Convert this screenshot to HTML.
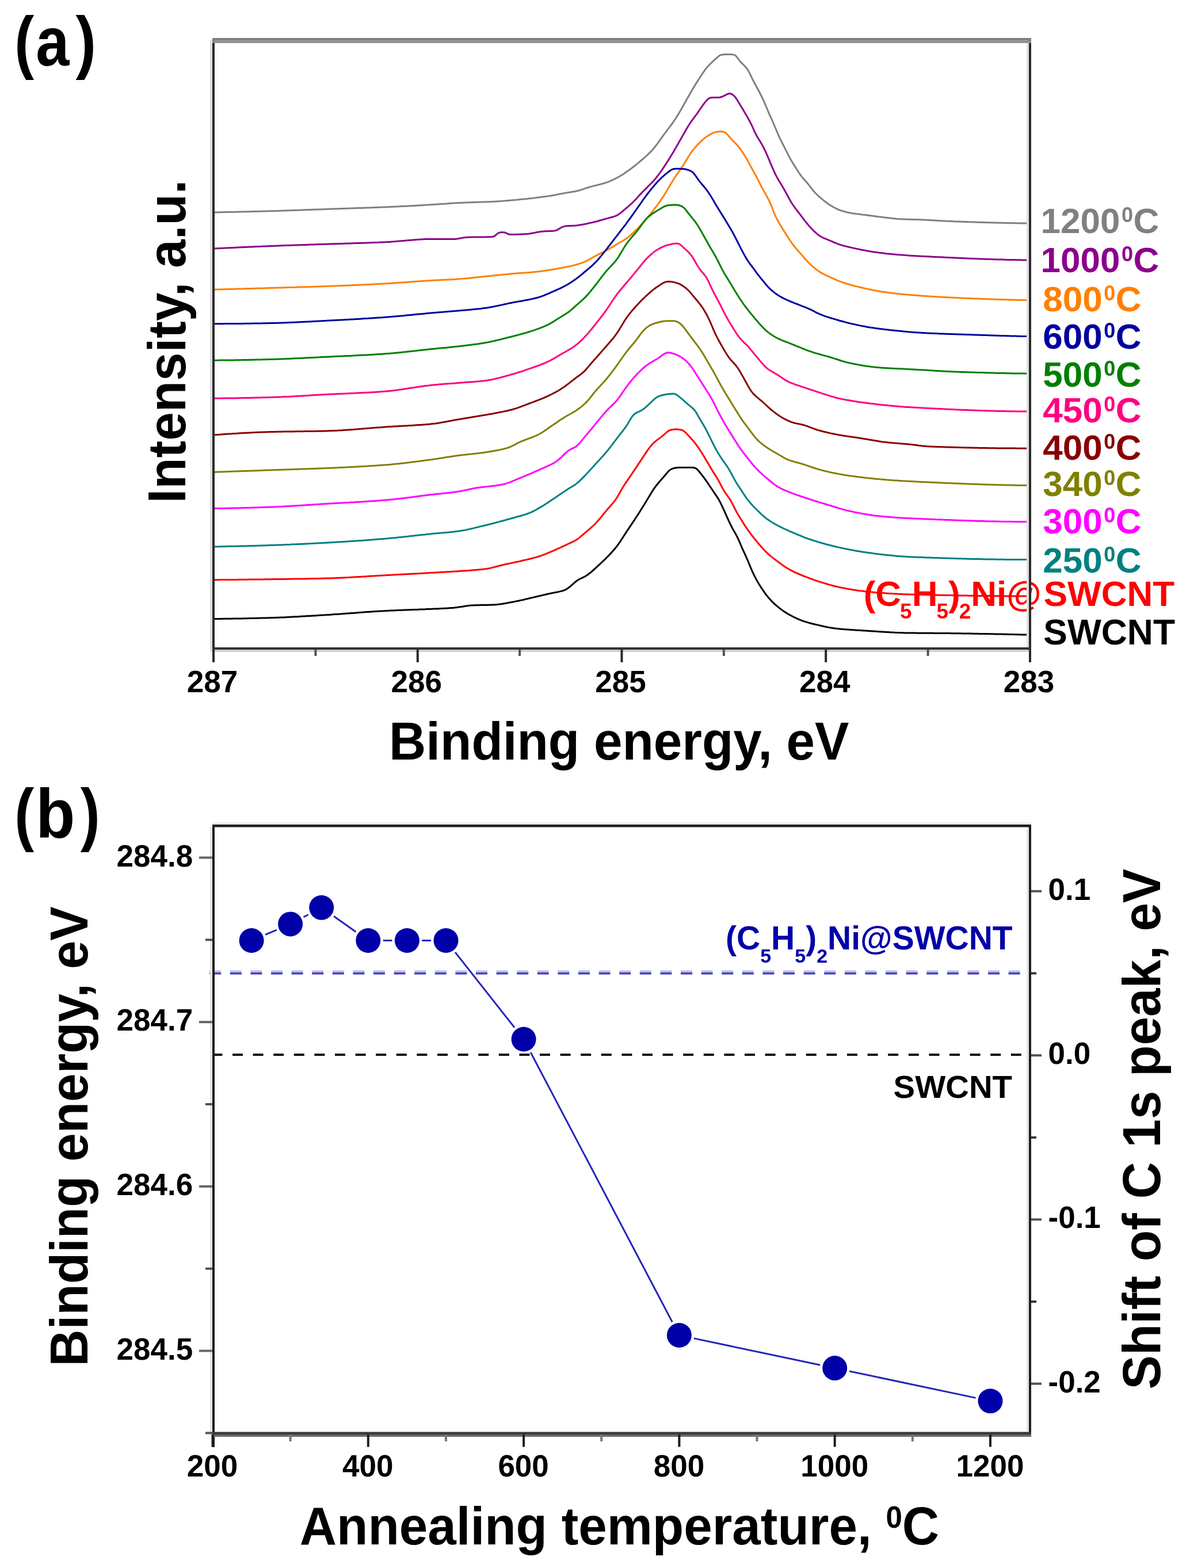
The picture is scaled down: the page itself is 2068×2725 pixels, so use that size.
<!DOCTYPE html><html><head><meta charset="utf-8"><title>C 1s XPS spectra and binding energy shift</title><style>html,body{margin:0;padding:0;background:#fff;overflow:hidden;}svg{display:block;}</style></head><body>
<svg width="2068" height="2725" viewBox="0 0 2068 2725">
<rect width="2068" height="2725" fill="#fff"/>
<g font-family='"Liberation Sans", Arial, Helvetica, sans-serif' font-weight="bold">
<text transform="translate(25.20,114.30) scale(0.85,1)" font-size="120">(</text>
<text transform="translate(62.37,114.30) scale(0.87,1)" font-size="120">a</text>
<text transform="translate(131.39,114.30) scale(0.89,1)" font-size="120">)</text>
<g fill="none" stroke-width="3" stroke-linejoin="round" stroke-linecap="round">
<path d="M373.0 369.0 L376.0 368.9 L379.0 368.9 L382.0 368.8 L385.0 368.8 L388.0 368.7 L391.0 368.7 L394.0 368.6 L397.0 368.5 L400.0 368.5 L403.0 368.4 L406.0 368.4 L409.0 368.3 L412.0 368.2 L415.0 368.2 L418.0 368.1 L421.0 368.0 L424.0 368.0 L427.0 367.9 L430.0 367.8 L433.0 367.7 L436.0 367.7 L439.0 367.6 L442.0 367.5 L445.0 367.4 L448.0 367.4 L451.0 367.3 L454.0 367.2 L457.0 367.1 L460.0 367.1 L463.0 367.0 L466.0 366.9 L469.0 366.8 L472.0 366.7 L475.0 366.7 L478.0 366.6 L481.0 366.5 L484.0 366.4 L487.0 366.3 L490.0 366.2 L493.0 366.1 L496.0 366.0 L499.0 365.9 L502.0 365.8 L505.0 365.7 L508.0 365.6 L511.0 365.5 L514.0 365.4 L517.0 365.3 L520.0 365.2 L523.0 365.1 L526.0 365.0 L529.0 364.8 L532.0 364.7 L535.0 364.6 L538.0 364.5 L541.0 364.4 L544.0 364.3 L547.0 364.2 L550.0 364.1 L553.0 364.0 L556.0 363.9 L559.0 363.8 L562.0 363.7 L565.0 363.6 L568.0 363.4 L571.0 363.3 L574.0 363.2 L577.0 363.1 L580.0 363.0 L583.0 362.9 L586.0 362.8 L589.0 362.7 L592.0 362.6 L595.0 362.5 L598.0 362.4 L601.0 362.3 L604.0 362.2 L607.0 362.1 L610.0 362.0 L613.0 361.9 L616.0 361.8 L619.0 361.7 L622.0 361.6 L625.0 361.5 L628.0 361.4 L631.0 361.3 L634.0 361.2 L637.0 361.1 L640.0 361.0 L643.0 360.9 L646.0 360.8 L649.0 360.7 L652.0 360.6 L655.0 360.5 L658.0 360.3 L661.0 360.2 L664.0 360.1 L667.0 360.0 L670.0 359.9 L673.0 359.7 L676.0 359.6 L679.0 359.5 L682.0 359.3 L685.0 359.2 L688.0 359.0 L691.0 358.9 L694.0 358.8 L697.0 358.6 L700.0 358.5 L703.0 358.3 L706.0 358.2 L709.0 358.0 L712.0 357.8 L715.0 357.7 L718.0 357.5 L721.0 357.4 L724.0 357.2 L727.0 357.0 L730.0 356.9 L733.0 356.7 L736.0 356.5 L739.0 356.3 L742.0 356.2 L745.0 356.0 L748.0 355.8 L751.0 355.6 L754.0 355.4 L757.0 355.3 L760.0 355.0 L763.0 354.8 L766.0 354.6 L769.0 354.4 L772.0 354.2 L775.0 354.0 L778.0 353.7 L781.0 353.5 L784.0 353.3 L787.0 353.1 L790.0 353.0 L793.0 352.8 L796.0 352.6 L799.0 352.5 L802.0 352.4 L805.0 352.2 L808.0 352.1 L811.0 352.0 L814.0 351.9 L817.0 351.8 L820.0 351.7 L823.0 351.6 L826.0 351.5 L829.0 351.4 L832.0 351.3 L835.0 351.2 L838.0 351.1 L841.0 351.0 L844.0 350.9 L847.0 350.8 L850.0 350.7 L853.0 350.6 L856.0 350.4 L859.0 350.3 L862.0 350.1 L865.0 349.9 L868.0 349.7 L871.0 349.5 L874.0 349.3 L877.0 349.0 L880.0 348.8 L883.0 348.5 L886.0 348.3 L889.0 348.0 L892.0 347.7 L895.0 347.4 L898.0 347.2 L901.0 346.9 L904.0 346.6 L907.0 346.3 L910.0 346.0 L913.0 345.7 L916.0 345.4 L919.0 345.0 L922.0 344.7 L925.0 344.4 L928.0 344.0 L931.0 343.7 L934.0 343.3 L937.0 342.9 L940.0 342.5 L943.0 342.1 L946.0 341.7 L949.0 341.3 L952.0 340.9 L955.0 340.4 L958.0 339.9 L961.0 339.4 L964.0 338.9 L967.0 338.3 L970.0 337.8 L973.0 337.2 L976.0 336.6 L979.0 336.1 L982.0 335.5 L985.0 335.0 L988.0 334.4 L991.0 334.0 L994.0 333.5 L997.0 333.0 L1000.0 332.5 L1003.0 331.8 L1006.0 331.0 L1009.0 330.1 L1012.0 329.2 L1015.0 328.2 L1018.0 327.2 L1021.0 326.2 L1024.0 325.3 L1027.0 324.4 L1030.0 323.6 L1033.0 322.8 L1036.0 322.1 L1039.0 321.3 L1042.0 320.6 L1045.0 319.8 L1048.0 319.0 L1051.0 318.1 L1054.0 317.1 L1057.0 316.0 L1060.0 314.8 L1063.0 313.5 L1066.0 312.1 L1069.0 310.6 L1072.0 309.1 L1075.0 307.5 L1078.0 305.8 L1081.0 303.9 L1084.0 302.0 L1087.0 299.9 L1090.0 297.8 L1093.0 295.7 L1096.0 293.5 L1099.0 291.3 L1102.0 289.0 L1105.0 286.6 L1108.0 284.2 L1111.0 281.7 L1114.0 279.1 L1117.0 276.5 L1120.0 273.9 L1123.0 271.2 L1126.0 268.4 L1129.0 265.4 L1132.0 262.4 L1135.0 259.1 L1138.0 255.6 L1141.0 251.7 L1144.0 247.7 L1147.0 243.4 L1150.0 239.1 L1153.0 234.9 L1156.0 230.8 L1159.0 226.8 L1162.0 222.9 L1165.0 219.0 L1168.0 215.0 L1171.0 210.7 L1174.0 206.2 L1177.0 201.4 L1180.0 196.4 L1183.0 191.2 L1186.0 186.1 L1189.0 180.8 L1192.0 175.5 L1195.0 170.1 L1198.0 164.7 L1201.0 159.4 L1204.0 154.3 L1207.0 149.4 L1210.0 144.6 L1213.0 139.9 L1216.0 135.3 L1219.0 130.6 L1222.0 126.0 L1225.0 121.7 L1228.0 117.8 L1231.0 114.5 L1234.0 111.4 L1237.0 108.5 L1240.0 105.7 L1243.0 102.9 L1246.0 100.1 L1249.0 97.6 L1252.0 95.8 L1255.0 95.0 L1258.0 94.7 L1261.0 94.6 L1264.0 94.5 L1267.0 94.5 L1270.0 94.6 L1273.0 94.8 L1276.0 95.4 L1279.0 97.3 L1282.0 101.0 L1285.0 105.2 L1288.0 108.7 L1291.0 111.6 L1294.0 114.5 L1297.0 117.9 L1300.0 122.3 L1303.0 127.9 L1306.0 134.1 L1309.0 140.2 L1312.0 145.8 L1315.0 151.2 L1318.0 156.8 L1321.0 162.5 L1324.0 168.5 L1327.0 175.0 L1330.0 181.9 L1333.0 189.0 L1336.0 196.1 L1339.0 202.8 L1342.0 209.5 L1345.0 216.3 L1348.0 223.5 L1351.0 230.7 L1354.0 237.5 L1357.0 243.8 L1360.0 249.7 L1363.0 255.6 L1366.0 261.7 L1369.0 267.7 L1372.0 273.4 L1375.0 278.7 L1378.0 283.7 L1381.0 288.6 L1384.0 293.3 L1387.0 298.0 L1390.0 302.5 L1393.0 306.6 L1396.0 310.3 L1399.0 313.7 L1402.0 317.0 L1405.0 320.6 L1408.0 324.4 L1411.0 328.4 L1414.0 332.2 L1417.0 335.5 L1420.0 338.5 L1423.0 341.3 L1426.0 343.9 L1429.0 346.4 L1432.0 348.9 L1435.0 351.2 L1438.0 353.5 L1441.0 355.5 L1444.0 357.4 L1447.0 359.2 L1450.0 360.8 L1453.0 362.4 L1456.0 363.8 L1459.0 365.0 L1462.0 366.1 L1465.0 367.0 L1468.0 367.8 L1471.0 368.6 L1474.0 369.3 L1477.0 369.9 L1480.0 370.4 L1483.0 370.9 L1486.0 371.3 L1489.0 371.8 L1492.0 372.1 L1495.0 372.5 L1498.0 372.9 L1501.0 373.2 L1504.0 373.6 L1507.0 374.0 L1510.0 374.4 L1513.0 374.8 L1516.0 375.2 L1519.0 375.6 L1522.0 376.0 L1525.0 376.4 L1528.0 376.8 L1531.0 377.1 L1534.0 377.5 L1537.0 377.9 L1540.0 378.2 L1543.0 378.6 L1546.0 378.9 L1549.0 379.3 L1552.0 379.6 L1555.0 379.9 L1558.0 380.2 L1561.0 380.5 L1564.0 380.7 L1567.0 380.8 L1570.0 381.0 L1573.0 381.1 L1576.0 381.2 L1579.0 381.3 L1582.0 381.3 L1585.0 381.4 L1588.0 381.5 L1591.0 381.5 L1594.0 381.6 L1597.0 381.7 L1600.0 381.8 L1603.0 381.9 L1606.0 382.1 L1609.0 382.2 L1612.0 382.4 L1615.0 382.5 L1618.0 382.7 L1621.0 382.9 L1624.0 383.1 L1627.0 383.3 L1630.0 383.5 L1633.0 383.6 L1636.0 383.8 L1639.0 384.0 L1642.0 384.1 L1645.0 384.3 L1648.0 384.4 L1651.0 384.5 L1654.0 384.6 L1657.0 384.8 L1660.0 384.9 L1663.0 385.0 L1666.0 385.1 L1669.0 385.2 L1672.0 385.3 L1675.0 385.4 L1678.0 385.5 L1681.0 385.6 L1684.0 385.7 L1687.0 385.8 L1690.0 385.9 L1693.0 386.0 L1696.0 386.1 L1699.0 386.2 L1702.0 386.3 L1705.0 386.4 L1708.0 386.5 L1711.0 386.6 L1714.0 386.7 L1717.0 386.7 L1720.0 386.8 L1723.0 386.9 L1726.0 387.0 L1729.0 387.1 L1732.0 387.1 L1735.0 387.2 L1738.0 387.3 L1741.0 387.3 L1744.0 387.4 L1747.0 387.5 L1750.0 387.5 L1753.0 387.6 L1756.0 387.6 L1759.0 387.7 L1762.0 387.7 L1765.0 387.8 L1768.0 387.8 L1771.0 387.9 L1774.0 387.9 L1777.0 387.9 L1780.0 387.9 L1783.0 388.0 L1786.0 388.0 L1789.0 388.0" stroke="#808080"/>
<path d="M373.0 431.9 L376.0 431.8 L379.0 431.7 L382.0 431.5 L385.0 431.4 L388.0 431.2 L391.0 431.1 L394.0 430.9 L397.0 430.8 L400.0 430.7 L403.0 430.5 L406.0 430.4 L409.0 430.2 L412.0 430.1 L415.0 429.9 L418.0 429.8 L421.0 429.7 L424.0 429.5 L427.0 429.4 L430.0 429.3 L433.0 429.1 L436.0 429.0 L439.0 428.9 L442.0 428.7 L445.0 428.6 L448.0 428.5 L451.0 428.4 L454.0 428.2 L457.0 428.1 L460.0 428.0 L463.0 427.9 L466.0 427.7 L469.0 427.6 L472.0 427.5 L475.0 427.4 L478.0 427.3 L481.0 427.2 L484.0 427.1 L487.0 427.0 L490.0 426.8 L493.0 426.7 L496.0 426.6 L499.0 426.5 L502.0 426.4 L505.0 426.3 L508.0 426.2 L511.0 426.1 L514.0 426.0 L517.0 425.9 L520.0 425.8 L523.0 425.7 L526.0 425.6 L529.0 425.5 L532.0 425.4 L535.0 425.3 L538.0 425.2 L541.0 425.1 L544.0 425.0 L547.0 424.9 L550.0 424.8 L553.0 424.7 L556.0 424.6 L559.0 424.5 L562.0 424.4 L565.0 424.3 L568.0 424.2 L571.0 424.1 L574.0 424.0 L577.0 423.9 L580.0 423.8 L583.0 423.8 L586.0 423.7 L589.0 423.6 L592.0 423.5 L595.0 423.4 L598.0 423.3 L601.0 423.2 L604.0 423.1 L607.0 423.0 L610.0 422.9 L613.0 422.8 L616.0 422.7 L619.0 422.6 L622.0 422.6 L625.0 422.5 L628.0 422.4 L631.0 422.3 L634.0 422.2 L637.0 422.1 L640.0 422.0 L643.0 421.8 L646.0 421.7 L649.0 421.6 L652.0 421.5 L655.0 421.4 L658.0 421.3 L661.0 421.1 L664.0 421.0 L667.0 420.9 L670.0 420.7 L673.0 420.6 L676.0 420.4 L679.0 420.2 L682.0 420.0 L685.0 419.8 L688.0 419.5 L691.0 419.3 L694.0 419.0 L697.0 418.8 L700.0 418.5 L703.0 418.2 L706.0 418.0 L709.0 417.7 L712.0 417.4 L715.0 417.2 L718.0 416.9 L721.0 416.7 L724.0 416.5 L727.0 416.3 L730.0 416.1 L733.0 415.9 L736.0 415.7 L739.0 415.6 L742.0 415.5 L745.0 415.5 L748.0 415.4 L751.0 415.4 L754.0 415.4 L757.0 415.4 L760.0 415.4 L763.0 415.4 L766.0 415.4 L769.0 415.4 L772.0 415.5 L775.0 415.5 L778.0 415.5 L781.0 415.5 L784.0 415.5 L787.0 415.5 L790.0 415.4 L793.0 415.2 L796.0 414.8 L799.0 414.2 L802.0 413.7 L805.0 413.1 L808.0 412.7 L811.0 412.4 L814.0 412.3 L817.0 412.2 L820.0 412.1 L823.0 412.1 L826.0 412.0 L829.0 412.0 L832.0 412.0 L835.0 412.0 L838.0 411.9 L841.0 411.9 L844.0 411.9 L847.0 411.8 L850.0 411.8 L853.0 411.7 L856.0 411.5 L859.0 410.5 L862.0 408.2 L865.0 405.6 L868.0 404.2 L871.0 403.7 L874.0 403.7 L877.0 404.0 L880.0 405.2 L883.0 406.8 L886.0 407.5 L889.0 407.5 L892.0 407.5 L895.0 407.4 L898.0 407.4 L901.0 407.3 L904.0 407.2 L907.0 407.0 L910.0 406.9 L913.0 406.7 L916.0 406.5 L919.0 406.2 L922.0 405.7 L925.0 405.2 L928.0 404.7 L931.0 404.1 L934.0 403.6 L937.0 403.1 L940.0 402.6 L943.0 402.3 L946.0 402.0 L949.0 401.8 L952.0 401.7 L955.0 401.6 L958.0 401.4 L961.0 401.2 L964.0 400.9 L967.0 400.2 L970.0 398.7 L973.0 396.8 L976.0 395.1 L979.0 393.9 L982.0 393.1 L985.0 392.7 L988.0 392.5 L991.0 392.4 L994.0 392.3 L997.0 392.2 L1000.0 392.0 L1003.0 391.7 L1006.0 391.3 L1009.0 390.8 L1012.0 390.3 L1015.0 389.7 L1018.0 389.1 L1021.0 388.5 L1024.0 387.8 L1027.0 387.1 L1030.0 386.5 L1033.0 385.7 L1036.0 385.0 L1039.0 384.2 L1042.0 383.3 L1045.0 382.5 L1048.0 381.6 L1051.0 380.7 L1054.0 379.9 L1057.0 379.1 L1060.0 378.3 L1063.0 377.5 L1066.0 376.7 L1069.0 375.6 L1072.0 374.3 L1075.0 372.6 L1078.0 370.4 L1081.0 368.0 L1084.0 365.4 L1087.0 362.9 L1090.0 360.4 L1093.0 357.8 L1096.0 355.1 L1099.0 352.3 L1102.0 349.3 L1105.0 346.2 L1108.0 342.9 L1111.0 339.6 L1114.0 336.4 L1117.0 333.2 L1120.0 330.2 L1123.0 327.3 L1126.0 324.3 L1129.0 321.3 L1132.0 318.3 L1135.0 315.1 L1138.0 311.7 L1141.0 308.0 L1144.0 304.2 L1147.0 300.1 L1150.0 295.8 L1153.0 291.4 L1156.0 286.9 L1159.0 282.3 L1162.0 277.6 L1165.0 272.7 L1168.0 267.8 L1171.0 262.7 L1174.0 257.6 L1177.0 252.4 L1180.0 247.1 L1183.0 241.8 L1186.0 236.5 L1189.0 231.2 L1192.0 226.0 L1195.0 220.8 L1198.0 216.0 L1201.0 211.5 L1204.0 207.4 L1207.0 203.3 L1210.0 199.3 L1213.0 195.1 L1216.0 190.7 L1219.0 186.3 L1222.0 182.0 L1225.0 178.1 L1228.0 174.5 L1231.0 171.6 L1234.0 170.0 L1237.0 169.5 L1240.0 169.5 L1243.0 169.5 L1246.0 169.5 L1249.0 169.4 L1252.0 169.0 L1255.0 168.0 L1258.0 166.7 L1261.0 165.1 L1264.0 163.5 L1267.0 162.6 L1270.0 162.8 L1273.0 164.3 L1276.0 166.8 L1279.0 170.5 L1282.0 175.2 L1285.0 180.2 L1288.0 185.2 L1291.0 190.1 L1294.0 195.2 L1297.0 200.3 L1300.0 205.5 L1303.0 211.0 L1306.0 216.9 L1309.0 223.5 L1312.0 230.1 L1315.0 236.0 L1318.0 241.0 L1321.0 245.8 L1324.0 250.9 L1327.0 256.5 L1330.0 262.7 L1333.0 269.3 L1336.0 276.4 L1339.0 283.6 L1342.0 290.7 L1345.0 297.5 L1348.0 303.9 L1351.0 309.6 L1354.0 314.7 L1357.0 319.5 L1360.0 324.5 L1363.0 329.8 L1366.0 335.2 L1369.0 340.7 L1372.0 346.2 L1375.0 351.5 L1378.0 356.2 L1381.0 360.5 L1384.0 364.4 L1387.0 368.2 L1390.0 372.1 L1393.0 376.1 L1396.0 380.1 L1399.0 384.1 L1402.0 387.8 L1405.0 391.4 L1408.0 394.9 L1411.0 398.0 L1414.0 401.1 L1417.0 403.9 L1420.0 406.6 L1423.0 408.9 L1426.0 410.8 L1429.0 412.5 L1432.0 413.9 L1435.0 415.2 L1438.0 416.4 L1441.0 417.6 L1444.0 418.9 L1447.0 420.2 L1450.0 421.5 L1453.0 422.7 L1456.0 423.9 L1459.0 425.0 L1462.0 425.9 L1465.0 426.8 L1468.0 427.6 L1471.0 428.3 L1474.0 429.0 L1477.0 429.7 L1480.0 430.4 L1483.0 431.1 L1486.0 431.7 L1489.0 432.4 L1492.0 433.0 L1495.0 433.6 L1498.0 434.3 L1501.0 434.8 L1504.0 435.4 L1507.0 436.0 L1510.0 436.5 L1513.0 437.0 L1516.0 437.4 L1519.0 437.9 L1522.0 438.3 L1525.0 438.8 L1528.0 439.2 L1531.0 439.6 L1534.0 439.9 L1537.0 440.3 L1540.0 440.7 L1543.0 441.0 L1546.0 441.3 L1549.0 441.6 L1552.0 441.9 L1555.0 442.1 L1558.0 442.4 L1561.0 442.6 L1564.0 442.9 L1567.0 443.1 L1570.0 443.3 L1573.0 443.6 L1576.0 443.8 L1579.0 444.0 L1582.0 444.2 L1585.0 444.4 L1588.0 444.5 L1591.0 444.7 L1594.0 444.9 L1597.0 445.0 L1600.0 445.2 L1603.0 445.4 L1606.0 445.5 L1609.0 445.7 L1612.0 445.8 L1615.0 446.0 L1618.0 446.1 L1621.0 446.3 L1624.0 446.4 L1627.0 446.6 L1630.0 446.7 L1633.0 446.8 L1636.0 447.0 L1639.0 447.1 L1642.0 447.3 L1645.0 447.4 L1648.0 447.6 L1651.0 447.7 L1654.0 447.8 L1657.0 448.0 L1660.0 448.1 L1663.0 448.3 L1666.0 448.4 L1669.0 448.5 L1672.0 448.7 L1675.0 448.8 L1678.0 448.9 L1681.0 449.0 L1684.0 449.2 L1687.0 449.3 L1690.0 449.4 L1693.0 449.5 L1696.0 449.6 L1699.0 449.8 L1702.0 449.9 L1705.0 450.0 L1708.0 450.1 L1711.0 450.2 L1714.0 450.3 L1717.0 450.4 L1720.0 450.5 L1723.0 450.6 L1726.0 450.7 L1729.0 450.8 L1732.0 450.9 L1735.0 451.0 L1738.0 451.0 L1741.0 451.1 L1744.0 451.2 L1747.0 451.3 L1750.0 451.4 L1753.0 451.4 L1756.0 451.5 L1759.0 451.6 L1762.0 451.6 L1765.0 451.7 L1768.0 451.7 L1771.0 451.8 L1774.0 451.8 L1777.0 451.9 L1780.0 451.9 L1783.0 451.9 L1786.0 452.0 L1789.0 452.0" stroke="#8c008c"/>
<path d="M373.0 503.2 L376.0 503.1 L379.0 503.0 L382.0 503.0 L385.0 502.9 L388.0 502.8 L391.0 502.7 L394.0 502.6 L397.0 502.6 L400.0 502.5 L403.0 502.4 L406.0 502.3 L409.0 502.2 L412.0 502.1 L415.0 502.1 L418.0 502.0 L421.0 501.9 L424.0 501.8 L427.0 501.7 L430.0 501.6 L433.0 501.6 L436.0 501.5 L439.0 501.4 L442.0 501.3 L445.0 501.2 L448.0 501.1 L451.0 501.0 L454.0 501.0 L457.0 500.9 L460.0 500.8 L463.0 500.7 L466.0 500.6 L469.0 500.5 L472.0 500.4 L475.0 500.3 L478.0 500.3 L481.0 500.2 L484.0 500.1 L487.0 500.0 L490.0 499.9 L493.0 499.8 L496.0 499.7 L499.0 499.6 L502.0 499.6 L505.0 499.5 L508.0 499.4 L511.0 499.3 L514.0 499.2 L517.0 499.1 L520.0 499.0 L523.0 498.9 L526.0 498.8 L529.0 498.8 L532.0 498.7 L535.0 498.6 L538.0 498.5 L541.0 498.4 L544.0 498.3 L547.0 498.2 L550.0 498.1 L553.0 498.0 L556.0 497.9 L559.0 497.8 L562.0 497.7 L565.0 497.6 L568.0 497.4 L571.0 497.3 L574.0 497.2 L577.0 497.1 L580.0 497.0 L583.0 496.9 L586.0 496.8 L589.0 496.6 L592.0 496.5 L595.0 496.4 L598.0 496.3 L601.0 496.2 L604.0 496.0 L607.0 495.9 L610.0 495.8 L613.0 495.6 L616.0 495.5 L619.0 495.4 L622.0 495.2 L625.0 495.1 L628.0 495.0 L631.0 494.8 L634.0 494.7 L637.0 494.5 L640.0 494.4 L643.0 494.2 L646.0 494.1 L649.0 493.9 L652.0 493.8 L655.0 493.6 L658.0 493.5 L661.0 493.3 L664.0 493.2 L667.0 493.0 L670.0 492.8 L673.0 492.7 L676.0 492.5 L679.0 492.3 L682.0 492.1 L685.0 491.9 L688.0 491.7 L691.0 491.5 L694.0 491.3 L697.0 491.1 L700.0 490.9 L703.0 490.7 L706.0 490.4 L709.0 490.2 L712.0 490.0 L715.0 489.8 L718.0 489.6 L721.0 489.3 L724.0 489.1 L727.0 488.9 L730.0 488.7 L733.0 488.5 L736.0 488.3 L739.0 488.1 L742.0 487.9 L745.0 487.7 L748.0 487.5 L751.0 487.3 L754.0 487.2 L757.0 487.0 L760.0 486.9 L763.0 486.7 L766.0 486.6 L769.0 486.5 L772.0 486.3 L775.0 486.2 L778.0 486.0 L781.0 485.9 L784.0 485.7 L787.0 485.6 L790.0 485.4 L793.0 485.2 L796.0 485.0 L799.0 484.8 L802.0 484.6 L805.0 484.3 L808.0 484.1 L811.0 483.8 L814.0 483.5 L817.0 483.2 L820.0 482.8 L823.0 482.5 L826.0 482.2 L829.0 481.9 L832.0 481.5 L835.0 481.2 L838.0 480.9 L841.0 480.6 L844.0 480.3 L847.0 480.0 L850.0 479.7 L853.0 479.4 L856.0 479.1 L859.0 478.8 L862.0 478.5 L865.0 478.2 L868.0 477.9 L871.0 477.6 L874.0 477.3 L877.0 477.0 L880.0 476.7 L883.0 476.4 L886.0 476.1 L889.0 475.8 L892.0 475.6 L895.0 475.3 L898.0 475.1 L901.0 474.8 L904.0 474.6 L907.0 474.4 L910.0 474.2 L913.0 473.9 L916.0 473.7 L919.0 473.5 L922.0 473.2 L925.0 473.0 L928.0 472.7 L931.0 472.4 L934.0 472.1 L937.0 471.8 L940.0 471.4 L943.0 471.0 L946.0 470.6 L949.0 470.1 L952.0 469.7 L955.0 469.2 L958.0 468.7 L961.0 468.2 L964.0 467.7 L967.0 467.2 L970.0 466.6 L973.0 466.1 L976.0 465.6 L979.0 465.0 L982.0 464.4 L985.0 463.8 L988.0 463.2 L991.0 462.6 L994.0 461.9 L997.0 461.2 L1000.0 460.4 L1003.0 459.5 L1006.0 458.6 L1009.0 457.6 L1012.0 456.5 L1015.0 455.4 L1018.0 454.1 L1021.0 452.7 L1024.0 451.1 L1027.0 449.3 L1030.0 447.6 L1033.0 445.8 L1036.0 444.2 L1039.0 442.6 L1042.0 441.2 L1045.0 439.7 L1048.0 438.3 L1051.0 436.7 L1054.0 435.1 L1057.0 433.5 L1060.0 431.7 L1063.0 429.9 L1066.0 428.1 L1069.0 426.2 L1072.0 424.4 L1075.0 422.7 L1078.0 421.0 L1081.0 419.2 L1084.0 417.5 L1087.0 415.5 L1090.0 413.4 L1093.0 411.1 L1096.0 408.5 L1099.0 405.8 L1102.0 403.0 L1105.0 400.1 L1108.0 397.1 L1111.0 394.0 L1114.0 390.8 L1117.0 387.5 L1120.0 384.1 L1123.0 380.6 L1126.0 377.1 L1129.0 373.5 L1132.0 369.9 L1135.0 366.1 L1138.0 362.2 L1141.0 358.2 L1144.0 354.0 L1147.0 349.8 L1150.0 345.3 L1153.0 340.8 L1156.0 336.1 L1159.0 331.2 L1162.0 326.1 L1165.0 321.0 L1168.0 315.9 L1171.0 311.0 L1174.0 306.4 L1177.0 302.1 L1180.0 297.8 L1183.0 293.6 L1186.0 289.2 L1189.0 284.6 L1192.0 279.6 L1195.0 274.6 L1198.0 269.7 L1201.0 265.1 L1204.0 261.1 L1207.0 257.4 L1210.0 254.0 L1213.0 250.9 L1216.0 247.8 L1219.0 244.9 L1222.0 242.1 L1225.0 239.6 L1228.0 237.4 L1231.0 235.5 L1234.0 233.7 L1237.0 232.1 L1240.0 230.7 L1243.0 229.6 L1246.0 229.0 L1249.0 228.7 L1252.0 228.6 L1255.0 228.7 L1258.0 229.3 L1261.0 230.9 L1264.0 233.6 L1267.0 237.3 L1270.0 240.8 L1273.0 243.9 L1276.0 246.8 L1279.0 249.9 L1282.0 253.3 L1285.0 257.0 L1288.0 261.0 L1291.0 265.4 L1294.0 270.3 L1297.0 275.3 L1300.0 280.6 L1303.0 286.1 L1306.0 291.5 L1309.0 297.0 L1312.0 302.4 L1315.0 308.0 L1318.0 313.9 L1321.0 319.8 L1324.0 325.6 L1327.0 331.1 L1330.0 336.5 L1333.0 341.9 L1336.0 347.6 L1339.0 354.0 L1342.0 361.6 L1345.0 369.5 L1348.0 376.3 L1351.0 382.3 L1354.0 387.8 L1357.0 392.8 L1360.0 397.6 L1363.0 402.3 L1366.0 407.1 L1369.0 411.9 L1372.0 416.5 L1375.0 420.9 L1378.0 425.0 L1381.0 429.0 L1384.0 432.6 L1387.0 436.0 L1390.0 439.4 L1393.0 442.8 L1396.0 446.2 L1399.0 449.7 L1402.0 453.1 L1405.0 456.3 L1408.0 459.3 L1411.0 462.0 L1414.0 464.6 L1417.0 467.1 L1420.0 469.4 L1423.0 471.5 L1426.0 473.4 L1429.0 475.1 L1432.0 476.7 L1435.0 478.2 L1438.0 479.7 L1441.0 481.0 L1444.0 482.4 L1447.0 483.7 L1450.0 485.0 L1453.0 486.3 L1456.0 487.6 L1459.0 488.8 L1462.0 489.9 L1465.0 491.0 L1468.0 492.0 L1471.0 493.0 L1474.0 493.9 L1477.0 494.8 L1480.0 495.6 L1483.0 496.4 L1486.0 497.2 L1489.0 497.9 L1492.0 498.6 L1495.0 499.3 L1498.0 500.0 L1501.0 500.7 L1504.0 501.4 L1507.0 502.1 L1510.0 502.7 L1513.0 503.3 L1516.0 504.0 L1519.0 504.6 L1522.0 505.1 L1525.0 505.7 L1528.0 506.2 L1531.0 506.7 L1534.0 507.2 L1537.0 507.6 L1540.0 508.0 L1543.0 508.4 L1546.0 508.8 L1549.0 509.2 L1552.0 509.6 L1555.0 509.9 L1558.0 510.2 L1561.0 510.6 L1564.0 510.9 L1567.0 511.2 L1570.0 511.5 L1573.0 511.8 L1576.0 512.1 L1579.0 512.3 L1582.0 512.6 L1585.0 512.9 L1588.0 513.1 L1591.0 513.3 L1594.0 513.6 L1597.0 513.8 L1600.0 514.0 L1603.0 514.2 L1606.0 514.4 L1609.0 514.6 L1612.0 514.8 L1615.0 515.0 L1618.0 515.2 L1621.0 515.3 L1624.0 515.5 L1627.0 515.7 L1630.0 515.9 L1633.0 516.0 L1636.0 516.2 L1639.0 516.4 L1642.0 516.5 L1645.0 516.7 L1648.0 516.8 L1651.0 517.0 L1654.0 517.2 L1657.0 517.3 L1660.0 517.4 L1663.0 517.6 L1666.0 517.7 L1669.0 517.9 L1672.0 518.0 L1675.0 518.1 L1678.0 518.3 L1681.0 518.4 L1684.0 518.5 L1687.0 518.6 L1690.0 518.8 L1693.0 518.9 L1696.0 519.0 L1699.0 519.1 L1702.0 519.2 L1705.0 519.3 L1708.0 519.4 L1711.0 519.6 L1714.0 519.7 L1717.0 519.8 L1720.0 519.9 L1723.0 520.0 L1726.0 520.1 L1729.0 520.2 L1732.0 520.3 L1735.0 520.4 L1738.0 520.5 L1741.0 520.6 L1744.0 520.7 L1747.0 520.8 L1750.0 520.8 L1753.0 520.9 L1756.0 521.0 L1759.0 521.1 L1762.0 521.2 L1765.0 521.3 L1768.0 521.3 L1771.0 521.4 L1774.0 521.5 L1777.0 521.5 L1780.0 521.6 L1783.0 521.7 L1786.0 521.7 L1789.0 521.8" stroke="#ff8000"/>
<path d="M373.0 562.7 L376.0 562.7 L379.0 562.7 L382.0 562.7 L385.0 562.7 L388.0 562.7 L391.0 562.6 L394.0 562.6 L397.0 562.6 L400.0 562.6 L403.0 562.6 L406.0 562.5 L409.0 562.5 L412.0 562.5 L415.0 562.4 L418.0 562.4 L421.0 562.4 L424.0 562.3 L427.0 562.3 L430.0 562.3 L433.0 562.2 L436.0 562.2 L439.0 562.1 L442.0 562.1 L445.0 562.0 L448.0 562.0 L451.0 561.9 L454.0 561.9 L457.0 561.8 L460.0 561.8 L463.0 561.7 L466.0 561.7 L469.0 561.6 L472.0 561.6 L475.0 561.5 L478.0 561.4 L481.0 561.3 L484.0 561.3 L487.0 561.2 L490.0 561.1 L493.0 561.0 L496.0 560.8 L499.0 560.7 L502.0 560.6 L505.0 560.5 L508.0 560.3 L511.0 560.2 L514.0 560.1 L517.0 559.9 L520.0 559.8 L523.0 559.6 L526.0 559.5 L529.0 559.3 L532.0 559.2 L535.0 559.0 L538.0 558.9 L541.0 558.7 L544.0 558.5 L547.0 558.4 L550.0 558.2 L553.0 558.1 L556.0 557.9 L559.0 557.7 L562.0 557.6 L565.0 557.4 L568.0 557.3 L571.0 557.1 L574.0 557.0 L577.0 556.8 L580.0 556.7 L583.0 556.5 L586.0 556.3 L589.0 556.2 L592.0 556.0 L595.0 555.9 L598.0 555.7 L601.0 555.5 L604.0 555.4 L607.0 555.2 L610.0 555.0 L613.0 554.9 L616.0 554.7 L619.0 554.5 L622.0 554.4 L625.0 554.2 L628.0 554.0 L631.0 553.8 L634.0 553.6 L637.0 553.4 L640.0 553.3 L643.0 553.1 L646.0 552.9 L649.0 552.7 L652.0 552.5 L655.0 552.3 L658.0 552.1 L661.0 551.9 L664.0 551.7 L667.0 551.4 L670.0 551.2 L673.0 551.0 L676.0 550.8 L679.0 550.5 L682.0 550.3 L685.0 550.0 L688.0 549.8 L691.0 549.5 L694.0 549.2 L697.0 548.9 L700.0 548.7 L703.0 548.4 L706.0 548.1 L709.0 547.8 L712.0 547.5 L715.0 547.2 L718.0 546.9 L721.0 546.6 L724.0 546.3 L727.0 546.0 L730.0 545.8 L733.0 545.5 L736.0 545.2 L739.0 544.9 L742.0 544.6 L745.0 544.3 L748.0 544.1 L751.0 543.8 L754.0 543.6 L757.0 543.3 L760.0 543.1 L763.0 542.8 L766.0 542.6 L769.0 542.3 L772.0 542.1 L775.0 541.8 L778.0 541.6 L781.0 541.3 L784.0 541.1 L787.0 540.8 L790.0 540.6 L793.0 540.3 L796.0 540.0 L799.0 539.8 L802.0 539.5 L805.0 539.2 L808.0 539.0 L811.0 538.7 L814.0 538.5 L817.0 538.2 L820.0 537.9 L823.0 537.6 L826.0 537.3 L829.0 537.0 L832.0 536.7 L835.0 536.4 L838.0 536.0 L841.0 535.6 L844.0 535.2 L847.0 534.8 L850.0 534.3 L853.0 533.8 L856.0 533.2 L859.0 532.6 L862.0 532.0 L865.0 531.4 L868.0 530.7 L871.0 530.1 L874.0 529.4 L877.0 528.7 L880.0 528.1 L883.0 527.4 L886.0 526.8 L889.0 526.2 L892.0 525.6 L895.0 525.0 L898.0 524.5 L901.0 523.9 L904.0 523.4 L907.0 522.9 L910.0 522.4 L913.0 521.8 L916.0 521.3 L919.0 520.7 L922.0 520.1 L925.0 519.4 L928.0 518.8 L931.0 518.0 L934.0 517.3 L937.0 516.4 L940.0 515.4 L943.0 514.3 L946.0 513.2 L949.0 511.9 L952.0 510.6 L955.0 509.3 L958.0 507.9 L961.0 506.6 L964.0 505.3 L967.0 504.0 L970.0 502.7 L973.0 501.3 L976.0 499.9 L979.0 498.4 L982.0 496.8 L985.0 495.2 L988.0 493.4 L991.0 491.5 L994.0 489.5 L997.0 487.5 L1000.0 485.4 L1003.0 483.2 L1006.0 480.9 L1009.0 478.5 L1012.0 476.0 L1015.0 473.5 L1018.0 471.0 L1021.0 468.5 L1024.0 465.9 L1027.0 463.3 L1030.0 460.6 L1033.0 457.7 L1036.0 454.7 L1039.0 451.5 L1042.0 448.0 L1045.0 444.4 L1048.0 440.6 L1051.0 436.9 L1054.0 433.1 L1057.0 429.3 L1060.0 425.4 L1063.0 421.5 L1066.0 417.6 L1069.0 413.7 L1072.0 409.8 L1075.0 405.9 L1078.0 402.0 L1081.0 398.1 L1084.0 394.2 L1087.0 390.3 L1090.0 386.2 L1093.0 382.1 L1096.0 378.0 L1099.0 373.8 L1102.0 369.5 L1105.0 365.3 L1108.0 361.1 L1111.0 356.8 L1114.0 352.5 L1117.0 348.2 L1120.0 344.0 L1123.0 339.9 L1126.0 336.0 L1129.0 332.1 L1132.0 328.4 L1135.0 324.7 L1138.0 321.2 L1141.0 317.8 L1144.0 314.5 L1147.0 311.5 L1150.0 308.5 L1153.0 305.8 L1156.0 303.2 L1159.0 300.8 L1162.0 298.5 L1165.0 296.3 L1168.0 294.5 L1171.0 293.5 L1174.0 293.2 L1177.0 293.2 L1180.0 293.2 L1183.0 293.2 L1186.0 293.4 L1189.0 293.7 L1192.0 294.3 L1195.0 295.1 L1198.0 296.1 L1201.0 297.5 L1204.0 299.6 L1207.0 303.0 L1210.0 307.2 L1213.0 311.6 L1216.0 315.6 L1219.0 319.2 L1222.0 322.7 L1225.0 326.3 L1228.0 330.1 L1231.0 334.3 L1234.0 338.8 L1237.0 343.7 L1240.0 348.7 L1243.0 353.9 L1246.0 359.0 L1249.0 363.9 L1252.0 368.8 L1255.0 373.6 L1258.0 378.4 L1261.0 383.3 L1264.0 388.2 L1267.0 393.2 L1270.0 398.3 L1273.0 403.6 L1276.0 409.1 L1279.0 414.9 L1282.0 420.8 L1285.0 426.7 L1288.0 432.6 L1291.0 438.4 L1294.0 443.9 L1297.0 449.1 L1300.0 453.8 L1303.0 458.1 L1306.0 462.0 L1309.0 466.0 L1312.0 470.2 L1315.0 474.3 L1318.0 478.3 L1321.0 482.1 L1324.0 485.7 L1327.0 489.3 L1330.0 493.0 L1333.0 496.6 L1336.0 499.9 L1339.0 502.8 L1342.0 505.4 L1345.0 507.9 L1348.0 510.2 L1351.0 512.3 L1354.0 514.2 L1357.0 515.9 L1360.0 517.6 L1363.0 519.1 L1366.0 520.5 L1369.0 521.9 L1372.0 523.2 L1375.0 524.5 L1378.0 525.7 L1381.0 526.9 L1384.0 528.0 L1387.0 529.2 L1390.0 530.4 L1393.0 531.6 L1396.0 532.7 L1399.0 533.9 L1402.0 535.1 L1405.0 536.4 L1408.0 537.7 L1411.0 539.2 L1414.0 540.7 L1417.0 542.3 L1420.0 543.8 L1423.0 545.2 L1426.0 546.5 L1429.0 547.7 L1432.0 548.8 L1435.0 549.8 L1438.0 550.8 L1441.0 551.8 L1444.0 552.7 L1447.0 553.6 L1450.0 554.5 L1453.0 555.4 L1456.0 556.3 L1459.0 557.2 L1462.0 558.0 L1465.0 558.8 L1468.0 559.6 L1471.0 560.4 L1474.0 561.2 L1477.0 561.9 L1480.0 562.6 L1483.0 563.3 L1486.0 563.9 L1489.0 564.6 L1492.0 565.2 L1495.0 565.9 L1498.0 566.5 L1501.0 567.1 L1504.0 567.6 L1507.0 568.2 L1510.0 568.7 L1513.0 569.2 L1516.0 569.6 L1519.0 570.1 L1522.0 570.5 L1525.0 570.9 L1528.0 571.3 L1531.0 571.7 L1534.0 572.1 L1537.0 572.4 L1540.0 572.8 L1543.0 573.1 L1546.0 573.5 L1549.0 573.8 L1552.0 574.1 L1555.0 574.4 L1558.0 574.7 L1561.0 575.0 L1564.0 575.3 L1567.0 575.6 L1570.0 575.9 L1573.0 576.2 L1576.0 576.5 L1579.0 576.8 L1582.0 577.0 L1585.0 577.3 L1588.0 577.5 L1591.0 577.7 L1594.0 577.9 L1597.0 578.1 L1600.0 578.3 L1603.0 578.5 L1606.0 578.6 L1609.0 578.8 L1612.0 578.9 L1615.0 579.1 L1618.0 579.2 L1621.0 579.3 L1624.0 579.5 L1627.0 579.6 L1630.0 579.7 L1633.0 579.9 L1636.0 580.0 L1639.0 580.1 L1642.0 580.2 L1645.0 580.3 L1648.0 580.4 L1651.0 580.5 L1654.0 580.6 L1657.0 580.7 L1660.0 580.8 L1663.0 580.9 L1666.0 581.0 L1669.0 581.1 L1672.0 581.2 L1675.0 581.3 L1678.0 581.4 L1681.0 581.5 L1684.0 581.6 L1687.0 581.7 L1690.0 581.8 L1693.0 581.9 L1696.0 582.0 L1699.0 582.1 L1702.0 582.2 L1705.0 582.3 L1708.0 582.4 L1711.0 582.5 L1714.0 582.6 L1717.0 582.7 L1720.0 582.8 L1723.0 582.9 L1726.0 583.0 L1729.0 583.1 L1732.0 583.2 L1735.0 583.3 L1738.0 583.4 L1741.0 583.4 L1744.0 583.5 L1747.0 583.6 L1750.0 583.7 L1753.0 583.8 L1756.0 583.9 L1759.0 584.0 L1762.0 584.1 L1765.0 584.1 L1768.0 584.2 L1771.0 584.3 L1774.0 584.4 L1777.0 584.5 L1780.0 584.6 L1783.0 584.6 L1786.0 584.7 L1789.0 584.8" stroke="#0000a0"/>
<path d="M373.0 626.2 L376.0 626.2 L379.0 626.2 L382.0 626.1 L385.0 626.1 L388.0 626.1 L391.0 626.1 L394.0 626.0 L397.0 626.0 L400.0 625.9 L403.0 625.9 L406.0 625.9 L409.0 625.8 L412.0 625.8 L415.0 625.7 L418.0 625.7 L421.0 625.6 L424.0 625.5 L427.0 625.5 L430.0 625.4 L433.0 625.4 L436.0 625.3 L439.0 625.2 L442.0 625.2 L445.0 625.1 L448.0 625.0 L451.0 625.0 L454.0 624.9 L457.0 624.8 L460.0 624.7 L463.0 624.7 L466.0 624.6 L469.0 624.5 L472.0 624.4 L475.0 624.4 L478.0 624.3 L481.0 624.2 L484.0 624.1 L487.0 624.0 L490.0 623.9 L493.0 623.7 L496.0 623.6 L499.0 623.5 L502.0 623.4 L505.0 623.2 L508.0 623.1 L511.0 623.0 L514.0 622.8 L517.0 622.7 L520.0 622.6 L523.0 622.4 L526.0 622.3 L529.0 622.1 L532.0 622.0 L535.0 621.8 L538.0 621.7 L541.0 621.5 L544.0 621.4 L547.0 621.2 L550.0 621.1 L553.0 620.9 L556.0 620.8 L559.0 620.6 L562.0 620.5 L565.0 620.3 L568.0 620.2 L571.0 620.0 L574.0 619.9 L577.0 619.7 L580.0 619.6 L583.0 619.5 L586.0 619.3 L589.0 619.2 L592.0 619.0 L595.0 618.9 L598.0 618.8 L601.0 618.6 L604.0 618.5 L607.0 618.4 L610.0 618.2 L613.0 618.1 L616.0 617.9 L619.0 617.8 L622.0 617.6 L625.0 617.5 L628.0 617.3 L631.0 617.2 L634.0 617.0 L637.0 616.9 L640.0 616.7 L643.0 616.5 L646.0 616.4 L649.0 616.2 L652.0 616.0 L655.0 615.8 L658.0 615.6 L661.0 615.4 L664.0 615.2 L667.0 615.0 L670.0 614.8 L673.0 614.6 L676.0 614.4 L679.0 614.1 L682.0 613.9 L685.0 613.6 L688.0 613.3 L691.0 613.0 L694.0 612.7 L697.0 612.4 L700.0 612.1 L703.0 611.8 L706.0 611.5 L709.0 611.1 L712.0 610.8 L715.0 610.5 L718.0 610.1 L721.0 609.8 L724.0 609.4 L727.0 609.1 L730.0 608.8 L733.0 608.4 L736.0 608.1 L739.0 607.8 L742.0 607.4 L745.0 607.1 L748.0 606.8 L751.0 606.5 L754.0 606.2 L757.0 605.9 L760.0 605.6 L763.0 605.3 L766.0 605.0 L769.0 604.7 L772.0 604.4 L775.0 604.2 L778.0 603.9 L781.0 603.6 L784.0 603.3 L787.0 602.9 L790.0 602.6 L793.0 602.3 L796.0 602.0 L799.0 601.6 L802.0 601.3 L805.0 600.9 L808.0 600.6 L811.0 600.2 L814.0 599.8 L817.0 599.5 L820.0 599.1 L823.0 598.7 L826.0 598.3 L829.0 597.9 L832.0 597.4 L835.0 597.0 L838.0 596.5 L841.0 596.0 L844.0 595.5 L847.0 595.0 L850.0 594.4 L853.0 593.8 L856.0 593.1 L859.0 592.5 L862.0 591.8 L865.0 591.1 L868.0 590.3 L871.0 589.6 L874.0 588.8 L877.0 588.1 L880.0 587.3 L883.0 586.5 L886.0 585.8 L889.0 585.0 L892.0 584.2 L895.0 583.5 L898.0 582.7 L901.0 581.9 L904.0 581.1 L907.0 580.3 L910.0 579.5 L913.0 578.6 L916.0 577.7 L919.0 576.8 L922.0 575.9 L925.0 574.9 L928.0 573.9 L931.0 572.9 L934.0 571.8 L937.0 570.7 L940.0 569.6 L943.0 568.4 L946.0 567.1 L949.0 565.8 L952.0 564.4 L955.0 562.9 L958.0 561.2 L961.0 559.4 L964.0 557.5 L967.0 555.6 L970.0 553.7 L973.0 551.8 L976.0 549.9 L979.0 548.0 L982.0 546.2 L985.0 544.3 L988.0 542.2 L991.0 539.9 L994.0 537.4 L997.0 534.7 L1000.0 531.9 L1003.0 529.3 L1006.0 526.7 L1009.0 524.1 L1012.0 521.4 L1015.0 518.6 L1018.0 515.6 L1021.0 512.4 L1024.0 508.9 L1027.0 505.3 L1030.0 501.6 L1033.0 497.8 L1036.0 494.0 L1039.0 490.1 L1042.0 486.2 L1045.0 482.2 L1048.0 478.2 L1051.0 474.4 L1054.0 470.7 L1057.0 467.4 L1060.0 464.2 L1063.0 461.1 L1066.0 457.9 L1069.0 454.5 L1072.0 450.6 L1075.0 446.3 L1078.0 441.4 L1081.0 436.3 L1084.0 431.2 L1087.0 426.4 L1090.0 422.1 L1093.0 418.2 L1096.0 414.6 L1099.0 411.1 L1102.0 407.6 L1105.0 404.1 L1108.0 400.4 L1111.0 396.4 L1114.0 392.2 L1117.0 388.0 L1120.0 384.0 L1123.0 380.5 L1126.0 377.5 L1129.0 375.0 L1132.0 372.7 L1135.0 370.6 L1138.0 368.7 L1141.0 366.8 L1144.0 365.0 L1147.0 363.2 L1150.0 361.3 L1153.0 359.6 L1156.0 358.2 L1159.0 357.3 L1162.0 356.7 L1165.0 356.4 L1168.0 356.2 L1171.0 356.1 L1174.0 356.1 L1177.0 356.3 L1180.0 356.8 L1183.0 357.7 L1186.0 359.1 L1189.0 361.6 L1192.0 365.1 L1195.0 369.0 L1198.0 372.8 L1201.0 376.5 L1204.0 380.1 L1207.0 383.9 L1210.0 388.0 L1213.0 392.5 L1216.0 397.5 L1219.0 402.7 L1222.0 408.1 L1225.0 413.4 L1228.0 418.8 L1231.0 424.2 L1234.0 429.4 L1237.0 434.5 L1240.0 439.5 L1243.0 444.8 L1246.0 450.4 L1249.0 456.3 L1252.0 462.4 L1255.0 468.3 L1258.0 473.7 L1261.0 478.7 L1264.0 483.6 L1267.0 488.6 L1270.0 493.6 L1273.0 498.6 L1276.0 503.6 L1279.0 508.5 L1282.0 513.3 L1285.0 518.0 L1288.0 522.4 L1291.0 526.8 L1294.0 531.0 L1297.0 535.0 L1300.0 538.9 L1303.0 542.7 L1306.0 546.3 L1309.0 549.9 L1312.0 553.6 L1315.0 557.1 L1318.0 560.6 L1321.0 563.9 L1324.0 567.2 L1327.0 570.3 L1330.0 573.3 L1333.0 576.0 L1336.0 578.4 L1339.0 580.6 L1342.0 582.6 L1345.0 584.5 L1348.0 586.2 L1351.0 587.8 L1354.0 589.2 L1357.0 590.6 L1360.0 591.8 L1363.0 593.0 L1366.0 594.1 L1369.0 595.2 L1372.0 596.4 L1375.0 597.6 L1378.0 598.8 L1381.0 600.0 L1384.0 601.3 L1387.0 602.5 L1390.0 603.7 L1393.0 604.9 L1396.0 606.1 L1399.0 607.4 L1402.0 608.6 L1405.0 609.7 L1408.0 610.7 L1411.0 611.7 L1414.0 612.7 L1417.0 613.6 L1420.0 614.4 L1423.0 615.3 L1426.0 616.1 L1429.0 617.0 L1432.0 617.8 L1435.0 618.6 L1438.0 619.4 L1441.0 620.3 L1444.0 621.2 L1447.0 622.1 L1450.0 623.1 L1453.0 624.0 L1456.0 625.0 L1459.0 626.0 L1462.0 627.0 L1465.0 627.9 L1468.0 628.8 L1471.0 629.6 L1474.0 630.3 L1477.0 631.0 L1480.0 631.6 L1483.0 632.2 L1486.0 632.8 L1489.0 633.3 L1492.0 633.9 L1495.0 634.4 L1498.0 634.9 L1501.0 635.4 L1504.0 635.9 L1507.0 636.4 L1510.0 636.8 L1513.0 637.2 L1516.0 637.6 L1519.0 637.9 L1522.0 638.3 L1525.0 638.6 L1528.0 638.8 L1531.0 639.1 L1534.0 639.3 L1537.0 639.5 L1540.0 639.7 L1543.0 639.8 L1546.0 640.0 L1549.0 640.2 L1552.0 640.3 L1555.0 640.4 L1558.0 640.6 L1561.0 640.7 L1564.0 640.8 L1567.0 641.0 L1570.0 641.1 L1573.0 641.3 L1576.0 641.4 L1579.0 641.6 L1582.0 641.7 L1585.0 641.9 L1588.0 642.0 L1591.0 642.2 L1594.0 642.4 L1597.0 642.6 L1600.0 642.7 L1603.0 642.9 L1606.0 643.1 L1609.0 643.3 L1612.0 643.5 L1615.0 643.7 L1618.0 643.8 L1621.0 644.0 L1624.0 644.2 L1627.0 644.4 L1630.0 644.5 L1633.0 644.7 L1636.0 644.9 L1639.0 645.1 L1642.0 645.2 L1645.0 645.4 L1648.0 645.5 L1651.0 645.7 L1654.0 645.8 L1657.0 645.9 L1660.0 646.1 L1663.0 646.2 L1666.0 646.3 L1669.0 646.4 L1672.0 646.5 L1675.0 646.6 L1678.0 646.7 L1681.0 646.8 L1684.0 646.9 L1687.0 647.0 L1690.0 647.1 L1693.0 647.2 L1696.0 647.3 L1699.0 647.4 L1702.0 647.5 L1705.0 647.6 L1708.0 647.6 L1711.0 647.7 L1714.0 647.8 L1717.0 647.9 L1720.0 648.0 L1723.0 648.1 L1726.0 648.1 L1729.0 648.2 L1732.0 648.3 L1735.0 648.4 L1738.0 648.4 L1741.0 648.5 L1744.0 648.6 L1747.0 648.6 L1750.0 648.7 L1753.0 648.7 L1756.0 648.8 L1759.0 648.9 L1762.0 648.9 L1765.0 648.9 L1768.0 649.0 L1771.0 649.0 L1774.0 649.1 L1777.0 649.1 L1780.0 649.1 L1783.0 649.2 L1786.0 649.2 L1789.0 649.2" stroke="#008000"/>
<path d="M373.0 692.2 L376.0 692.2 L379.0 692.2 L382.0 692.2 L385.0 692.2 L388.0 692.1 L391.0 692.1 L394.0 692.1 L397.0 692.0 L400.0 692.0 L403.0 692.0 L406.0 691.9 L409.0 691.9 L412.0 691.8 L415.0 691.8 L418.0 691.7 L421.0 691.7 L424.0 691.6 L427.0 691.5 L430.0 691.5 L433.0 691.4 L436.0 691.3 L439.0 691.3 L442.0 691.2 L445.0 691.1 L448.0 691.1 L451.0 691.0 L454.0 690.9 L457.0 690.8 L460.0 690.8 L463.0 690.7 L466.0 690.6 L469.0 690.5 L472.0 690.4 L475.0 690.3 L478.0 690.2 L481.0 690.1 L484.0 690.0 L487.0 689.9 L490.0 689.8 L493.0 689.6 L496.0 689.5 L499.0 689.4 L502.0 689.2 L505.0 689.1 L508.0 688.9 L511.0 688.7 L514.0 688.6 L517.0 688.4 L520.0 688.2 L523.0 688.1 L526.0 687.9 L529.0 687.7 L532.0 687.5 L535.0 687.4 L538.0 687.2 L541.0 687.0 L544.0 686.8 L547.0 686.6 L550.0 686.5 L553.0 686.3 L556.0 686.1 L559.0 686.0 L562.0 685.8 L565.0 685.6 L568.0 685.5 L571.0 685.3 L574.0 685.2 L577.0 685.0 L580.0 684.9 L583.0 684.7 L586.0 684.6 L589.0 684.5 L592.0 684.3 L595.0 684.2 L598.0 684.1 L601.0 683.9 L604.0 683.8 L607.0 683.7 L610.0 683.5 L613.0 683.4 L616.0 683.3 L619.0 683.1 L622.0 683.0 L625.0 682.8 L628.0 682.7 L631.0 682.5 L634.0 682.4 L637.0 682.2 L640.0 682.1 L643.0 681.9 L646.0 681.7 L649.0 681.6 L652.0 681.4 L655.0 681.2 L658.0 681.0 L661.0 680.8 L664.0 680.6 L667.0 680.3 L670.0 680.1 L673.0 679.9 L676.0 679.6 L679.0 679.3 L682.0 678.9 L685.0 678.6 L688.0 678.2 L691.0 677.8 L694.0 677.3 L697.0 676.9 L700.0 676.5 L703.0 676.0 L706.0 675.5 L709.0 675.1 L712.0 674.6 L715.0 674.1 L718.0 673.7 L721.0 673.2 L724.0 672.7 L727.0 672.3 L730.0 671.8 L733.0 671.4 L736.0 671.0 L739.0 670.6 L742.0 670.2 L745.0 669.9 L748.0 669.5 L751.0 669.2 L754.0 668.9 L757.0 668.6 L760.0 668.4 L763.0 668.1 L766.0 667.8 L769.0 667.6 L772.0 667.3 L775.0 667.1 L778.0 666.9 L781.0 666.6 L784.0 666.4 L787.0 666.2 L790.0 665.9 L793.0 665.7 L796.0 665.4 L799.0 665.2 L802.0 665.0 L805.0 664.8 L808.0 664.5 L811.0 664.3 L814.0 664.1 L817.0 663.9 L820.0 663.7 L823.0 663.5 L826.0 663.2 L829.0 663.0 L832.0 662.7 L835.0 662.5 L838.0 662.1 L841.0 661.8 L844.0 661.4 L847.0 661.0 L850.0 660.5 L853.0 660.0 L856.0 659.4 L859.0 658.7 L862.0 658.0 L865.0 657.3 L868.0 656.6 L871.0 655.8 L874.0 655.0 L877.0 654.1 L880.0 653.3 L883.0 652.5 L886.0 651.6 L889.0 650.8 L892.0 650.0 L895.0 649.1 L898.0 648.2 L901.0 647.2 L904.0 646.3 L907.0 645.3 L910.0 644.3 L913.0 643.2 L916.0 642.2 L919.0 641.2 L922.0 640.1 L925.0 639.1 L928.0 638.0 L931.0 637.0 L934.0 635.9 L937.0 634.8 L940.0 633.7 L943.0 632.5 L946.0 631.3 L949.0 630.0 L952.0 628.6 L955.0 627.2 L958.0 625.6 L961.0 623.9 L964.0 622.2 L967.0 620.4 L970.0 618.6 L973.0 616.8 L976.0 615.1 L979.0 613.3 L982.0 611.7 L985.0 610.0 L988.0 608.3 L991.0 606.5 L994.0 604.6 L997.0 602.6 L1000.0 600.4 L1003.0 598.1 L1006.0 595.5 L1009.0 592.7 L1012.0 589.8 L1015.0 586.7 L1018.0 583.5 L1021.0 580.2 L1024.0 576.8 L1027.0 573.2 L1030.0 569.4 L1033.0 565.7 L1036.0 561.9 L1039.0 558.2 L1042.0 554.3 L1045.0 550.5 L1048.0 546.6 L1051.0 542.5 L1054.0 538.4 L1057.0 534.0 L1060.0 529.4 L1063.0 524.8 L1066.0 520.2 L1069.0 515.8 L1072.0 511.6 L1075.0 507.8 L1078.0 504.1 L1081.0 500.5 L1084.0 497.0 L1087.0 493.5 L1090.0 490.0 L1093.0 486.4 L1096.0 482.8 L1099.0 479.2 L1102.0 475.6 L1105.0 472.0 L1108.0 468.4 L1111.0 464.7 L1114.0 460.9 L1117.0 457.1 L1120.0 453.5 L1123.0 450.2 L1126.0 447.1 L1129.0 444.3 L1132.0 441.6 L1135.0 439.1 L1138.0 436.9 L1141.0 434.8 L1144.0 433.0 L1147.0 431.3 L1150.0 429.8 L1153.0 428.4 L1156.0 427.1 L1159.0 426.1 L1162.0 425.4 L1165.0 424.7 L1168.0 424.1 L1171.0 423.6 L1174.0 423.2 L1177.0 423.1 L1180.0 423.8 L1183.0 425.7 L1186.0 428.5 L1189.0 431.3 L1192.0 434.0 L1195.0 436.8 L1198.0 439.9 L1201.0 443.4 L1204.0 447.7 L1207.0 452.7 L1210.0 458.2 L1213.0 463.3 L1216.0 467.7 L1219.0 471.5 L1222.0 475.0 L1225.0 478.7 L1228.0 483.0 L1231.0 488.6 L1234.0 495.1 L1237.0 501.7 L1240.0 507.8 L1243.0 513.5 L1246.0 519.0 L1249.0 524.5 L1252.0 530.3 L1255.0 536.3 L1258.0 542.3 L1261.0 548.1 L1264.0 553.5 L1267.0 558.8 L1270.0 563.8 L1273.0 568.7 L1276.0 573.5 L1279.0 578.2 L1282.0 582.7 L1285.0 586.7 L1288.0 590.2 L1291.0 593.3 L1294.0 596.2 L1297.0 599.0 L1300.0 602.1 L1303.0 605.5 L1306.0 609.1 L1309.0 612.9 L1312.0 616.6 L1315.0 620.2 L1318.0 623.8 L1321.0 627.4 L1324.0 630.9 L1327.0 634.3 L1330.0 637.4 L1333.0 640.1 L1336.0 642.4 L1339.0 644.3 L1342.0 646.1 L1345.0 647.8 L1348.0 649.5 L1351.0 651.3 L1354.0 653.2 L1357.0 655.2 L1360.0 657.3 L1363.0 659.4 L1366.0 661.2 L1369.0 662.9 L1372.0 664.3 L1375.0 665.6 L1378.0 666.7 L1381.0 667.8 L1384.0 668.9 L1387.0 669.9 L1390.0 670.9 L1393.0 671.9 L1396.0 672.9 L1399.0 673.9 L1402.0 674.9 L1405.0 675.9 L1408.0 677.0 L1411.0 677.9 L1414.0 678.9 L1417.0 679.9 L1420.0 680.9 L1423.0 681.8 L1426.0 682.8 L1429.0 683.8 L1432.0 684.8 L1435.0 685.7 L1438.0 686.7 L1441.0 687.7 L1444.0 688.6 L1447.0 689.5 L1450.0 690.4 L1453.0 691.2 L1456.0 692.0 L1459.0 692.6 L1462.0 693.3 L1465.0 693.9 L1468.0 694.5 L1471.0 695.1 L1474.0 695.6 L1477.0 696.1 L1480.0 696.6 L1483.0 697.1 L1486.0 697.6 L1489.0 698.0 L1492.0 698.5 L1495.0 698.9 L1498.0 699.3 L1501.0 699.7 L1504.0 700.1 L1507.0 700.5 L1510.0 700.9 L1513.0 701.3 L1516.0 701.6 L1519.0 702.0 L1522.0 702.4 L1525.0 702.7 L1528.0 703.0 L1531.0 703.4 L1534.0 703.7 L1537.0 704.0 L1540.0 704.3 L1543.0 704.6 L1546.0 704.9 L1549.0 705.2 L1552.0 705.5 L1555.0 705.8 L1558.0 706.0 L1561.0 706.3 L1564.0 706.6 L1567.0 706.8 L1570.0 707.0 L1573.0 707.3 L1576.0 707.5 L1579.0 707.6 L1582.0 707.8 L1585.0 708.0 L1588.0 708.1 L1591.0 708.3 L1594.0 708.5 L1597.0 708.6 L1600.0 708.8 L1603.0 708.9 L1606.0 709.1 L1609.0 709.3 L1612.0 709.4 L1615.0 709.6 L1618.0 709.7 L1621.0 709.9 L1624.0 710.0 L1627.0 710.2 L1630.0 710.3 L1633.0 710.5 L1636.0 710.6 L1639.0 710.8 L1642.0 710.9 L1645.0 711.1 L1648.0 711.2 L1651.0 711.3 L1654.0 711.5 L1657.0 711.6 L1660.0 711.8 L1663.0 711.9 L1666.0 712.0 L1669.0 712.2 L1672.0 712.3 L1675.0 712.4 L1678.0 712.5 L1681.0 712.6 L1684.0 712.8 L1687.0 712.9 L1690.0 713.0 L1693.0 713.1 L1696.0 713.2 L1699.0 713.3 L1702.0 713.4 L1705.0 713.5 L1708.0 713.6 L1711.0 713.7 L1714.0 713.8 L1717.0 713.9 L1720.0 714.0 L1723.0 714.1 L1726.0 714.1 L1729.0 714.2 L1732.0 714.3 L1735.0 714.4 L1738.0 714.4 L1741.0 714.5 L1744.0 714.5 L1747.0 714.6 L1750.0 714.7 L1753.0 714.7 L1756.0 714.8 L1759.0 714.8 L1762.0 714.8 L1765.0 714.9 L1768.0 714.9 L1771.0 714.9 L1774.0 714.9 L1777.0 715.0 L1780.0 715.0 L1783.0 715.0 L1786.0 715.0 L1789.0 715.0" stroke="#ff0080"/>
<path d="M373.0 755.7 L376.0 755.6 L379.0 755.4 L382.0 755.2 L385.0 755.0 L388.0 754.7 L391.0 754.5 L394.0 754.3 L397.0 754.1 L400.0 753.9 L403.0 753.8 L406.0 753.6 L409.0 753.4 L412.0 753.2 L415.0 753.0 L418.0 752.8 L421.0 752.7 L424.0 752.5 L427.0 752.3 L430.0 752.2 L433.0 752.0 L436.0 751.9 L439.0 751.7 L442.0 751.6 L445.0 751.5 L448.0 751.3 L451.0 751.2 L454.0 751.1 L457.0 751.0 L460.0 750.9 L463.0 750.8 L466.0 750.7 L469.0 750.6 L472.0 750.5 L475.0 750.5 L478.0 750.4 L481.0 750.3 L484.0 750.3 L487.0 750.2 L490.0 750.2 L493.0 750.1 L496.0 750.1 L499.0 750.0 L502.0 750.0 L505.0 749.9 L508.0 749.9 L511.0 749.9 L514.0 749.8 L517.0 749.8 L520.0 749.8 L523.0 749.7 L526.0 749.7 L529.0 749.6 L532.0 749.6 L535.0 749.6 L538.0 749.5 L541.0 749.5 L544.0 749.4 L547.0 749.4 L550.0 749.3 L553.0 749.3 L556.0 749.2 L559.0 749.2 L562.0 749.1 L565.0 749.0 L568.0 748.9 L571.0 748.8 L574.0 748.7 L577.0 748.6 L580.0 748.5 L583.0 748.4 L586.0 748.2 L589.0 748.1 L592.0 747.9 L595.0 747.7 L598.0 747.5 L601.0 747.3 L604.0 747.1 L607.0 746.9 L610.0 746.7 L613.0 746.5 L616.0 746.2 L619.0 746.0 L622.0 745.8 L625.0 745.5 L628.0 745.3 L631.0 745.0 L634.0 744.8 L637.0 744.6 L640.0 744.3 L643.0 744.1 L646.0 743.8 L649.0 743.6 L652.0 743.3 L655.0 743.1 L658.0 742.9 L661.0 742.7 L664.0 742.4 L667.0 742.2 L670.0 742.0 L673.0 741.8 L676.0 741.6 L679.0 741.5 L682.0 741.3 L685.0 741.1 L688.0 740.9 L691.0 740.8 L694.0 740.6 L697.0 740.4 L700.0 740.3 L703.0 740.1 L706.0 739.9 L709.0 739.8 L712.0 739.6 L715.0 739.4 L718.0 739.2 L721.0 739.0 L724.0 738.8 L727.0 738.6 L730.0 738.4 L733.0 738.2 L736.0 737.9 L739.0 737.7 L742.0 737.4 L745.0 737.2 L748.0 736.9 L751.0 736.6 L754.0 736.2 L757.0 735.9 L760.0 735.4 L763.0 735.0 L766.0 734.5 L769.0 734.0 L772.0 733.4 L775.0 732.9 L778.0 732.3 L781.0 731.7 L784.0 731.2 L787.0 730.6 L790.0 730.0 L793.0 729.5 L796.0 729.0 L799.0 728.5 L802.0 728.0 L805.0 727.5 L808.0 727.0 L811.0 726.5 L814.0 726.1 L817.0 725.6 L820.0 725.1 L823.0 724.6 L826.0 724.1 L829.0 723.6 L832.0 723.1 L835.0 722.6 L838.0 722.1 L841.0 721.5 L844.0 721.0 L847.0 720.5 L850.0 719.9 L853.0 719.4 L856.0 718.9 L859.0 718.3 L862.0 717.8 L865.0 717.2 L868.0 716.6 L871.0 716.1 L874.0 715.4 L877.0 714.8 L880.0 714.2 L883.0 713.5 L886.0 712.7 L889.0 712.0 L892.0 711.2 L895.0 710.3 L898.0 709.3 L901.0 708.3 L904.0 707.2 L907.0 706.1 L910.0 704.9 L913.0 703.8 L916.0 702.6 L919.0 701.5 L922.0 700.4 L925.0 699.3 L928.0 698.1 L931.0 697.0 L934.0 695.9 L937.0 694.7 L940.0 693.5 L943.0 692.3 L946.0 691.0 L949.0 689.7 L952.0 688.4 L955.0 686.9 L958.0 685.5 L961.0 683.9 L964.0 682.4 L967.0 680.7 L970.0 679.0 L973.0 677.2 L976.0 675.3 L979.0 673.3 L982.0 671.2 L985.0 668.9 L988.0 666.7 L991.0 664.3 L994.0 662.0 L997.0 659.6 L1000.0 657.3 L1003.0 655.0 L1006.0 652.9 L1009.0 650.7 L1012.0 648.4 L1015.0 645.7 L1018.0 642.6 L1021.0 639.1 L1024.0 635.5 L1027.0 632.0 L1030.0 628.5 L1033.0 625.1 L1036.0 621.7 L1039.0 618.3 L1042.0 614.9 L1045.0 611.5 L1048.0 608.1 L1051.0 604.7 L1054.0 601.2 L1057.0 597.8 L1060.0 594.3 L1063.0 590.8 L1066.0 587.2 L1069.0 583.4 L1072.0 579.2 L1075.0 574.7 L1078.0 569.8 L1081.0 564.8 L1084.0 559.8 L1087.0 555.0 L1090.0 550.7 L1093.0 546.7 L1096.0 542.9 L1099.0 539.3 L1102.0 535.9 L1105.0 532.5 L1108.0 529.3 L1111.0 526.0 L1114.0 522.9 L1117.0 519.9 L1120.0 517.0 L1123.0 514.1 L1126.0 511.4 L1129.0 508.8 L1132.0 506.2 L1135.0 503.7 L1138.0 501.3 L1141.0 499.2 L1144.0 497.2 L1147.0 495.2 L1150.0 493.3 L1153.0 491.6 L1156.0 490.2 L1159.0 489.4 L1162.0 489.2 L1165.0 489.4 L1168.0 489.8 L1171.0 490.4 L1174.0 491.2 L1177.0 492.1 L1180.0 493.2 L1183.0 494.6 L1186.0 496.4 L1189.0 498.5 L1192.0 500.8 L1195.0 503.4 L1198.0 506.5 L1201.0 509.9 L1204.0 513.6 L1207.0 517.2 L1210.0 520.8 L1213.0 524.4 L1216.0 528.1 L1219.0 532.1 L1222.0 536.5 L1225.0 541.4 L1228.0 546.8 L1231.0 552.6 L1234.0 559.0 L1237.0 566.0 L1240.0 573.1 L1243.0 579.8 L1246.0 585.9 L1249.0 591.6 L1252.0 597.0 L1255.0 602.3 L1258.0 607.5 L1261.0 612.5 L1264.0 617.3 L1267.0 621.6 L1270.0 625.4 L1273.0 628.8 L1276.0 631.9 L1279.0 635.3 L1282.0 639.4 L1285.0 644.0 L1288.0 649.2 L1291.0 654.5 L1294.0 659.9 L1297.0 665.3 L1300.0 670.8 L1303.0 676.0 L1306.0 680.4 L1309.0 684.1 L1312.0 687.1 L1315.0 689.8 L1318.0 692.3 L1321.0 694.8 L1324.0 697.3 L1327.0 700.0 L1330.0 702.8 L1333.0 705.6 L1336.0 708.4 L1339.0 711.0 L1342.0 713.6 L1345.0 715.9 L1348.0 718.2 L1351.0 720.4 L1354.0 722.5 L1357.0 724.5 L1360.0 726.2 L1363.0 727.9 L1366.0 729.4 L1369.0 730.8 L1372.0 732.2 L1375.0 733.3 L1378.0 734.3 L1381.0 735.2 L1384.0 735.9 L1387.0 736.5 L1390.0 737.1 L1393.0 737.8 L1396.0 738.5 L1399.0 739.4 L1402.0 740.4 L1405.0 741.5 L1408.0 742.6 L1411.0 743.8 L1414.0 744.9 L1417.0 746.0 L1420.0 747.0 L1423.0 747.9 L1426.0 748.7 L1429.0 749.5 L1432.0 750.3 L1435.0 751.0 L1438.0 751.7 L1441.0 752.4 L1444.0 753.1 L1447.0 753.7 L1450.0 754.3 L1453.0 754.9 L1456.0 755.5 L1459.0 756.0 L1462.0 756.6 L1465.0 757.1 L1468.0 757.5 L1471.0 758.0 L1474.0 758.4 L1477.0 758.8 L1480.0 759.2 L1483.0 759.7 L1486.0 760.1 L1489.0 760.5 L1492.0 760.9 L1495.0 761.4 L1498.0 761.9 L1501.0 762.4 L1504.0 762.9 L1507.0 763.4 L1510.0 763.9 L1513.0 764.5 L1516.0 765.0 L1519.0 765.5 L1522.0 766.0 L1525.0 766.5 L1528.0 767.0 L1531.0 767.4 L1534.0 767.9 L1537.0 768.2 L1540.0 768.6 L1543.0 768.9 L1546.0 769.2 L1549.0 769.5 L1552.0 769.8 L1555.0 770.0 L1558.0 770.2 L1561.0 770.5 L1564.0 770.7 L1567.0 771.0 L1570.0 771.2 L1573.0 771.5 L1576.0 771.7 L1579.0 772.0 L1582.0 772.3 L1585.0 772.7 L1588.0 773.0 L1591.0 773.4 L1594.0 773.8 L1597.0 774.3 L1600.0 774.6 L1603.0 775.0 L1606.0 775.3 L1609.0 775.6 L1612.0 775.8 L1615.0 775.9 L1618.0 776.1 L1621.0 776.2 L1624.0 776.3 L1627.0 776.4 L1630.0 776.5 L1633.0 776.6 L1636.0 776.7 L1639.0 776.8 L1642.0 776.9 L1645.0 777.0 L1648.0 777.1 L1651.0 777.2 L1654.0 777.3 L1657.0 777.3 L1660.0 777.4 L1663.0 777.5 L1666.0 777.6 L1669.0 777.7 L1672.0 777.7 L1675.0 777.8 L1678.0 777.9 L1681.0 778.0 L1684.0 778.0 L1687.0 778.1 L1690.0 778.2 L1693.0 778.2 L1696.0 778.3 L1699.0 778.3 L1702.0 778.4 L1705.0 778.5 L1708.0 778.5 L1711.0 778.6 L1714.0 778.6 L1717.0 778.7 L1720.0 778.7 L1723.0 778.7 L1726.0 778.8 L1729.0 778.8 L1732.0 778.9 L1735.0 778.9 L1738.0 778.9 L1741.0 779.0 L1744.0 779.0 L1747.0 779.0 L1750.0 779.0 L1753.0 779.1 L1756.0 779.1 L1759.0 779.1 L1762.0 779.1 L1765.0 779.1 L1768.0 779.2 L1771.0 779.2 L1774.0 779.2 L1777.0 779.2 L1780.0 779.2 L1783.0 779.2 L1786.0 779.2 L1789.0 779.2" stroke="#880000"/>
<path d="M373.0 820.4 L376.0 820.3 L379.0 820.2 L382.0 820.1 L385.0 820.0 L388.0 819.9 L391.0 819.8 L394.0 819.7 L397.0 819.6 L400.0 819.5 L403.0 819.3 L406.0 819.2 L409.0 819.1 L412.0 819.0 L415.0 818.9 L418.0 818.8 L421.0 818.7 L424.0 818.6 L427.0 818.5 L430.0 818.4 L433.0 818.3 L436.0 818.2 L439.0 818.1 L442.0 818.0 L445.0 817.9 L448.0 817.8 L451.0 817.7 L454.0 817.6 L457.0 817.4 L460.0 817.3 L463.0 817.2 L466.0 817.1 L469.0 817.0 L472.0 816.9 L475.0 816.8 L478.0 816.7 L481.0 816.6 L484.0 816.5 L487.0 816.4 L490.0 816.3 L493.0 816.2 L496.0 816.1 L499.0 816.0 L502.0 815.9 L505.0 815.8 L508.0 815.7 L511.0 815.6 L514.0 815.5 L517.0 815.4 L520.0 815.3 L523.0 815.2 L526.0 815.1 L529.0 815.0 L532.0 814.9 L535.0 814.8 L538.0 814.7 L541.0 814.6 L544.0 814.5 L547.0 814.4 L550.0 814.3 L553.0 814.2 L556.0 814.0 L559.0 813.9 L562.0 813.8 L565.0 813.7 L568.0 813.6 L571.0 813.4 L574.0 813.3 L577.0 813.2 L580.0 813.0 L583.0 812.9 L586.0 812.8 L589.0 812.6 L592.0 812.5 L595.0 812.4 L598.0 812.2 L601.0 812.1 L604.0 811.9 L607.0 811.8 L610.0 811.6 L613.0 811.5 L616.0 811.3 L619.0 811.2 L622.0 811.0 L625.0 810.8 L628.0 810.7 L631.0 810.5 L634.0 810.3 L637.0 810.2 L640.0 810.0 L643.0 809.8 L646.0 809.6 L649.0 809.4 L652.0 809.2 L655.0 809.0 L658.0 808.8 L661.0 808.6 L664.0 808.4 L667.0 808.1 L670.0 807.9 L673.0 807.7 L676.0 807.4 L679.0 807.2 L682.0 806.9 L685.0 806.6 L688.0 806.3 L691.0 806.0 L694.0 805.7 L697.0 805.3 L700.0 805.0 L703.0 804.7 L706.0 804.3 L709.0 803.9 L712.0 803.6 L715.0 803.2 L718.0 802.8 L721.0 802.4 L724.0 802.0 L727.0 801.7 L730.0 801.3 L733.0 800.9 L736.0 800.5 L739.0 800.1 L742.0 799.7 L745.0 799.3 L748.0 798.9 L751.0 798.5 L754.0 798.0 L757.0 797.6 L760.0 797.2 L763.0 796.7 L766.0 796.2 L769.0 795.8 L772.0 795.3 L775.0 794.8 L778.0 794.3 L781.0 793.9 L784.0 793.4 L787.0 792.9 L790.0 792.5 L793.0 792.1 L796.0 791.7 L799.0 791.3 L802.0 790.9 L805.0 790.6 L808.0 790.2 L811.0 789.9 L814.0 789.6 L817.0 789.3 L820.0 789.0 L823.0 788.6 L826.0 788.3 L829.0 788.0 L832.0 787.6 L835.0 787.3 L838.0 786.9 L841.0 786.5 L844.0 786.0 L847.0 785.6 L850.0 785.1 L853.0 784.6 L856.0 784.1 L859.0 783.6 L862.0 783.1 L865.0 782.5 L868.0 781.9 L871.0 781.2 L874.0 780.5 L877.0 779.7 L880.0 778.9 L883.0 778.0 L886.0 776.9 L889.0 775.5 L892.0 774.1 L895.0 772.5 L898.0 770.9 L901.0 769.4 L904.0 768.0 L907.0 766.7 L910.0 765.5 L913.0 764.4 L916.0 763.2 L919.0 762.1 L922.0 761.0 L925.0 759.9 L928.0 758.7 L931.0 757.4 L934.0 756.0 L937.0 754.5 L940.0 752.8 L943.0 750.9 L946.0 748.9 L949.0 746.8 L952.0 744.7 L955.0 742.6 L958.0 740.5 L961.0 738.5 L964.0 736.4 L967.0 734.4 L970.0 732.3 L973.0 730.3 L976.0 728.3 L979.0 726.4 L982.0 724.5 L985.0 722.8 L988.0 721.1 L991.0 719.5 L994.0 717.8 L997.0 716.1 L1000.0 714.2 L1003.0 712.2 L1006.0 710.1 L1009.0 707.8 L1012.0 705.3 L1015.0 702.7 L1018.0 699.9 L1021.0 696.7 L1024.0 693.2 L1027.0 689.5 L1030.0 685.7 L1033.0 681.9 L1036.0 678.3 L1039.0 675.0 L1042.0 671.7 L1045.0 668.5 L1048.0 665.3 L1051.0 661.9 L1054.0 658.5 L1057.0 654.8 L1060.0 651.0 L1063.0 647.1 L1066.0 643.1 L1069.0 639.1 L1072.0 635.0 L1075.0 630.8 L1078.0 626.5 L1081.0 622.2 L1084.0 618.0 L1087.0 613.8 L1090.0 609.9 L1093.0 606.1 L1096.0 602.6 L1099.0 599.0 L1102.0 595.5 L1105.0 591.8 L1108.0 587.9 L1111.0 583.6 L1114.0 579.4 L1117.0 575.8 L1120.0 572.7 L1123.0 569.9 L1126.0 567.6 L1129.0 565.7 L1132.0 564.2 L1135.0 563.0 L1138.0 561.9 L1141.0 561.0 L1144.0 560.2 L1147.0 559.5 L1150.0 558.8 L1153.0 558.2 L1156.0 557.9 L1159.0 557.8 L1162.0 557.8 L1165.0 557.8 L1168.0 557.8 L1171.0 557.8 L1174.0 558.2 L1177.0 559.1 L1180.0 560.9 L1183.0 563.2 L1186.0 566.1 L1189.0 569.8 L1192.0 573.9 L1195.0 578.0 L1198.0 582.0 L1201.0 586.0 L1204.0 590.0 L1207.0 594.0 L1210.0 597.9 L1213.0 601.8 L1216.0 605.9 L1219.0 610.4 L1222.0 615.2 L1225.0 620.3 L1228.0 625.5 L1231.0 630.6 L1234.0 635.7 L1237.0 640.9 L1240.0 646.1 L1243.0 651.6 L1246.0 657.2 L1249.0 662.8 L1252.0 668.4 L1255.0 673.7 L1258.0 678.8 L1261.0 683.7 L1264.0 688.7 L1267.0 693.6 L1270.0 698.5 L1273.0 703.4 L1276.0 708.3 L1279.0 713.1 L1282.0 717.9 L1285.0 722.7 L1288.0 727.4 L1291.0 731.8 L1294.0 735.8 L1297.0 739.7 L1300.0 743.7 L1303.0 747.8 L1306.0 751.9 L1309.0 756.0 L1312.0 759.7 L1315.0 763.1 L1318.0 766.1 L1321.0 768.8 L1324.0 771.3 L1327.0 773.6 L1330.0 775.8 L1333.0 777.9 L1336.0 779.9 L1339.0 781.7 L1342.0 783.5 L1345.0 785.3 L1348.0 787.0 L1351.0 788.7 L1354.0 790.5 L1357.0 792.3 L1360.0 794.1 L1363.0 795.8 L1366.0 797.3 L1369.0 798.7 L1372.0 799.9 L1375.0 800.9 L1378.0 801.8 L1381.0 802.7 L1384.0 803.5 L1387.0 804.3 L1390.0 805.1 L1393.0 806.0 L1396.0 806.9 L1399.0 807.9 L1402.0 808.9 L1405.0 809.9 L1408.0 811.0 L1411.0 812.0 L1414.0 813.0 L1417.0 814.0 L1420.0 814.9 L1423.0 815.8 L1426.0 816.6 L1429.0 817.4 L1432.0 818.2 L1435.0 818.9 L1438.0 819.6 L1441.0 820.3 L1444.0 821.0 L1447.0 821.6 L1450.0 822.2 L1453.0 822.8 L1456.0 823.4 L1459.0 823.9 L1462.0 824.5 L1465.0 825.0 L1468.0 825.5 L1471.0 826.0 L1474.0 826.4 L1477.0 826.9 L1480.0 827.3 L1483.0 827.7 L1486.0 828.1 L1489.0 828.5 L1492.0 828.9 L1495.0 829.3 L1498.0 829.6 L1501.0 830.0 L1504.0 830.3 L1507.0 830.7 L1510.0 831.0 L1513.0 831.3 L1516.0 831.6 L1519.0 831.9 L1522.0 832.2 L1525.0 832.5 L1528.0 832.8 L1531.0 833.0 L1534.0 833.3 L1537.0 833.5 L1540.0 833.8 L1543.0 834.0 L1546.0 834.2 L1549.0 834.5 L1552.0 834.7 L1555.0 834.9 L1558.0 835.1 L1561.0 835.3 L1564.0 835.5 L1567.0 835.7 L1570.0 835.9 L1573.0 836.0 L1576.0 836.2 L1579.0 836.3 L1582.0 836.5 L1585.0 836.6 L1588.0 836.8 L1591.0 836.9 L1594.0 837.1 L1597.0 837.2 L1600.0 837.4 L1603.0 837.5 L1606.0 837.7 L1609.0 837.8 L1612.0 837.9 L1615.0 838.1 L1618.0 838.2 L1621.0 838.4 L1624.0 838.5 L1627.0 838.6 L1630.0 838.8 L1633.0 838.9 L1636.0 839.0 L1639.0 839.2 L1642.0 839.3 L1645.0 839.4 L1648.0 839.6 L1651.0 839.7 L1654.0 839.8 L1657.0 840.0 L1660.0 840.1 L1663.0 840.2 L1666.0 840.3 L1669.0 840.5 L1672.0 840.6 L1675.0 840.7 L1678.0 840.8 L1681.0 840.9 L1684.0 841.0 L1687.0 841.2 L1690.0 841.3 L1693.0 841.4 L1696.0 841.5 L1699.0 841.6 L1702.0 841.7 L1705.0 841.8 L1708.0 841.9 L1711.0 842.0 L1714.0 842.1 L1717.0 842.2 L1720.0 842.3 L1723.0 842.3 L1726.0 842.4 L1729.0 842.5 L1732.0 842.6 L1735.0 842.7 L1738.0 842.7 L1741.0 842.8 L1744.0 842.9 L1747.0 843.0 L1750.0 843.0 L1753.0 843.1 L1756.0 843.1 L1759.0 843.2 L1762.0 843.3 L1765.0 843.3 L1768.0 843.4 L1771.0 843.4 L1774.0 843.4 L1777.0 843.5 L1780.0 843.5 L1783.0 843.5 L1786.0 843.6 L1789.0 843.6" stroke="#808000"/>
<path d="M373.0 883.6 L376.0 883.6 L379.0 883.5 L382.0 883.5 L385.0 883.5 L388.0 883.4 L391.0 883.4 L394.0 883.3 L397.0 883.3 L400.0 883.2 L403.0 883.2 L406.0 883.1 L409.0 883.0 L412.0 883.0 L415.0 882.9 L418.0 882.8 L421.0 882.7 L424.0 882.6 L427.0 882.6 L430.0 882.5 L433.0 882.4 L436.0 882.3 L439.0 882.2 L442.0 882.1 L445.0 882.0 L448.0 881.9 L451.0 881.8 L454.0 881.7 L457.0 881.6 L460.0 881.5 L463.0 881.4 L466.0 881.3 L469.0 881.2 L472.0 881.1 L475.0 881.0 L478.0 880.9 L481.0 880.8 L484.0 880.6 L487.0 880.5 L490.0 880.3 L493.0 880.2 L496.0 880.0 L499.0 879.8 L502.0 879.7 L505.0 879.5 L508.0 879.3 L511.0 879.1 L514.0 879.0 L517.0 878.8 L520.0 878.6 L523.0 878.4 L526.0 878.2 L529.0 878.0 L532.0 877.8 L535.0 877.6 L538.0 877.4 L541.0 877.2 L544.0 877.0 L547.0 876.8 L550.0 876.6 L553.0 876.4 L556.0 876.2 L559.0 876.0 L562.0 875.8 L565.0 875.7 L568.0 875.5 L571.0 875.3 L574.0 875.1 L577.0 874.9 L580.0 874.8 L583.0 874.6 L586.0 874.4 L589.0 874.3 L592.0 874.1 L595.0 873.9 L598.0 873.8 L601.0 873.6 L604.0 873.4 L607.0 873.3 L610.0 873.1 L613.0 872.9 L616.0 872.8 L619.0 872.6 L622.0 872.4 L625.0 872.2 L628.0 872.1 L631.0 871.9 L634.0 871.7 L637.0 871.5 L640.0 871.3 L643.0 871.1 L646.0 870.9 L649.0 870.7 L652.0 870.5 L655.0 870.3 L658.0 870.1 L661.0 869.8 L664.0 869.6 L667.0 869.4 L670.0 869.1 L673.0 868.9 L676.0 868.6 L679.0 868.3 L682.0 868.0 L685.0 867.7 L688.0 867.3 L691.0 867.0 L694.0 866.7 L697.0 866.3 L700.0 865.9 L703.0 865.6 L706.0 865.2 L709.0 864.8 L712.0 864.4 L715.0 864.0 L718.0 863.7 L721.0 863.3 L724.0 862.9 L727.0 862.5 L730.0 862.1 L733.0 861.7 L736.0 861.3 L739.0 860.9 L742.0 860.6 L745.0 860.2 L748.0 859.8 L751.0 859.5 L754.0 859.1 L757.0 858.8 L760.0 858.5 L763.0 858.2 L766.0 857.9 L769.0 857.5 L772.0 857.2 L775.0 856.9 L778.0 856.6 L781.0 856.2 L784.0 855.9 L787.0 855.5 L790.0 855.1 L793.0 854.7 L796.0 854.3 L799.0 853.8 L802.0 853.2 L805.0 852.6 L808.0 852.0 L811.0 851.4 L814.0 850.7 L817.0 850.0 L820.0 849.4 L823.0 848.8 L826.0 848.3 L829.0 847.8 L832.0 847.3 L835.0 846.9 L838.0 846.5 L841.0 846.2 L844.0 845.9 L847.0 845.5 L850.0 845.2 L853.0 844.9 L856.0 844.5 L859.0 844.2 L862.0 843.8 L865.0 843.3 L868.0 842.9 L871.0 842.3 L874.0 841.7 L877.0 841.0 L880.0 840.2 L883.0 839.2 L886.0 838.1 L889.0 836.9 L892.0 835.6 L895.0 834.3 L898.0 833.1 L901.0 831.8 L904.0 830.5 L907.0 829.3 L910.0 828.1 L913.0 826.9 L916.0 825.6 L919.0 824.4 L922.0 823.1 L925.0 821.8 L928.0 820.5 L931.0 819.1 L934.0 817.8 L937.0 816.5 L940.0 815.1 L943.0 813.8 L946.0 812.5 L949.0 811.2 L952.0 809.9 L955.0 808.4 L958.0 807.0 L961.0 805.4 L964.0 803.7 L967.0 801.7 L970.0 799.5 L973.0 796.9 L976.0 794.1 L979.0 791.1 L982.0 788.2 L985.0 785.4 L988.0 783.1 L991.0 781.2 L994.0 779.7 L997.0 778.4 L1000.0 776.7 L1003.0 774.4 L1006.0 771.4 L1009.0 768.1 L1012.0 764.4 L1015.0 760.7 L1018.0 757.1 L1021.0 753.6 L1024.0 750.0 L1027.0 746.4 L1030.0 742.7 L1033.0 739.1 L1036.0 735.4 L1039.0 731.8 L1042.0 728.1 L1045.0 724.4 L1048.0 720.8 L1051.0 717.3 L1054.0 714.0 L1057.0 710.9 L1060.0 708.0 L1063.0 705.1 L1066.0 702.2 L1069.0 699.2 L1072.0 695.7 L1075.0 691.9 L1078.0 687.8 L1081.0 683.4 L1084.0 679.0 L1087.0 674.7 L1090.0 670.6 L1093.0 666.8 L1096.0 663.0 L1099.0 659.3 L1102.0 655.8 L1105.0 652.4 L1108.0 649.2 L1111.0 646.2 L1114.0 643.3 L1117.0 640.5 L1120.0 638.0 L1123.0 635.5 L1126.0 633.3 L1129.0 631.3 L1132.0 629.5 L1135.0 627.7 L1138.0 626.0 L1141.0 624.3 L1144.0 622.4 L1147.0 620.3 L1150.0 618.0 L1153.0 615.8 L1156.0 614.1 L1159.0 613.0 L1162.0 612.8 L1165.0 613.1 L1168.0 613.9 L1171.0 614.8 L1174.0 615.8 L1177.0 617.1 L1180.0 618.6 L1183.0 620.3 L1186.0 622.2 L1189.0 624.4 L1192.0 627.0 L1195.0 629.9 L1198.0 633.3 L1201.0 637.0 L1204.0 641.2 L1207.0 645.8 L1210.0 650.5 L1213.0 655.2 L1216.0 659.9 L1219.0 664.7 L1222.0 669.4 L1225.0 674.1 L1228.0 678.7 L1231.0 683.3 L1234.0 688.2 L1237.0 693.5 L1240.0 699.3 L1243.0 705.3 L1246.0 711.3 L1249.0 717.2 L1252.0 722.9 L1255.0 728.4 L1258.0 733.8 L1261.0 739.0 L1264.0 744.0 L1267.0 748.8 L1270.0 753.6 L1273.0 758.4 L1276.0 763.2 L1279.0 768.0 L1282.0 772.8 L1285.0 777.3 L1288.0 781.6 L1291.0 785.6 L1294.0 789.5 L1297.0 793.3 L1300.0 797.1 L1303.0 800.8 L1306.0 804.6 L1309.0 808.2 L1312.0 811.7 L1315.0 815.0 L1318.0 818.0 L1321.0 820.9 L1324.0 823.7 L1327.0 826.3 L1330.0 828.9 L1333.0 831.4 L1336.0 834.0 L1339.0 836.5 L1342.0 839.0 L1345.0 841.4 L1348.0 843.6 L1351.0 845.6 L1354.0 847.3 L1357.0 848.9 L1360.0 850.3 L1363.0 851.7 L1366.0 852.9 L1369.0 854.2 L1372.0 855.4 L1375.0 856.5 L1378.0 857.7 L1381.0 858.8 L1384.0 859.9 L1387.0 860.9 L1390.0 862.0 L1393.0 863.0 L1396.0 864.0 L1399.0 865.0 L1402.0 866.0 L1405.0 867.0 L1408.0 867.9 L1411.0 868.9 L1414.0 869.9 L1417.0 870.8 L1420.0 871.7 L1423.0 872.7 L1426.0 873.6 L1429.0 874.5 L1432.0 875.4 L1435.0 876.3 L1438.0 877.2 L1441.0 878.1 L1444.0 879.0 L1447.0 879.9 L1450.0 880.8 L1453.0 881.7 L1456.0 882.7 L1459.0 883.6 L1462.0 884.4 L1465.0 885.3 L1468.0 886.1 L1471.0 886.9 L1474.0 887.6 L1477.0 888.3 L1480.0 888.9 L1483.0 889.6 L1486.0 890.2 L1489.0 890.8 L1492.0 891.4 L1495.0 892.0 L1498.0 892.5 L1501.0 893.1 L1504.0 893.6 L1507.0 894.1 L1510.0 894.6 L1513.0 895.0 L1516.0 895.5 L1519.0 895.9 L1522.0 896.3 L1525.0 896.6 L1528.0 897.0 L1531.0 897.3 L1534.0 897.6 L1537.0 897.8 L1540.0 898.1 L1543.0 898.4 L1546.0 898.6 L1549.0 898.8 L1552.0 899.1 L1555.0 899.3 L1558.0 899.5 L1561.0 899.7 L1564.0 899.9 L1567.0 900.0 L1570.0 900.2 L1573.0 900.4 L1576.0 900.5 L1579.0 900.7 L1582.0 900.8 L1585.0 900.9 L1588.0 901.1 L1591.0 901.2 L1594.0 901.3 L1597.0 901.5 L1600.0 901.6 L1603.0 901.7 L1606.0 901.9 L1609.0 902.0 L1612.0 902.1 L1615.0 902.2 L1618.0 902.4 L1621.0 902.5 L1624.0 902.6 L1627.0 902.8 L1630.0 902.9 L1633.0 903.0 L1636.0 903.1 L1639.0 903.3 L1642.0 903.4 L1645.0 903.5 L1648.0 903.6 L1651.0 903.7 L1654.0 903.8 L1657.0 904.0 L1660.0 904.1 L1663.0 904.2 L1666.0 904.3 L1669.0 904.4 L1672.0 904.5 L1675.0 904.6 L1678.0 904.7 L1681.0 904.8 L1684.0 904.9 L1687.0 905.0 L1690.0 905.1 L1693.0 905.2 L1696.0 905.3 L1699.0 905.4 L1702.0 905.5 L1705.0 905.5 L1708.0 905.6 L1711.0 905.7 L1714.0 905.8 L1717.0 905.9 L1720.0 905.9 L1723.0 906.0 L1726.0 906.1 L1729.0 906.1 L1732.0 906.2 L1735.0 906.3 L1738.0 906.3 L1741.0 906.4 L1744.0 906.4 L1747.0 906.5 L1750.0 906.5 L1753.0 906.5 L1756.0 906.6 L1759.0 906.6 L1762.0 906.7 L1765.0 906.7 L1768.0 906.7 L1771.0 906.7 L1774.0 906.8 L1777.0 906.8 L1780.0 906.8 L1783.0 906.8 L1786.0 906.8 L1789.0 906.8" stroke="#ff00ff"/>
<path d="M373.0 950.0 L376.0 950.0 L379.0 949.9 L382.0 949.9 L385.0 949.8 L388.0 949.7 L391.0 949.7 L394.0 949.6 L397.0 949.6 L400.0 949.5 L403.0 949.4 L406.0 949.4 L409.0 949.3 L412.0 949.2 L415.0 949.2 L418.0 949.1 L421.0 949.0 L424.0 948.9 L427.0 948.9 L430.0 948.8 L433.0 948.7 L436.0 948.6 L439.0 948.5 L442.0 948.4 L445.0 948.4 L448.0 948.3 L451.0 948.2 L454.0 948.1 L457.0 948.0 L460.0 947.9 L463.0 947.8 L466.0 947.7 L469.0 947.6 L472.0 947.5 L475.0 947.4 L478.0 947.3 L481.0 947.2 L484.0 947.1 L487.0 947.0 L490.0 946.9 L493.0 946.8 L496.0 946.6 L499.0 946.5 L502.0 946.4 L505.0 946.3 L508.0 946.1 L511.0 946.0 L514.0 945.9 L517.0 945.7 L520.0 945.6 L523.0 945.5 L526.0 945.3 L529.0 945.2 L532.0 945.0 L535.0 944.9 L538.0 944.7 L541.0 944.6 L544.0 944.4 L547.0 944.3 L550.0 944.1 L553.0 944.0 L556.0 943.8 L559.0 943.7 L562.0 943.5 L565.0 943.3 L568.0 943.2 L571.0 943.0 L574.0 942.8 L577.0 942.7 L580.0 942.5 L583.0 942.3 L586.0 942.1 L589.0 942.0 L592.0 941.8 L595.0 941.6 L598.0 941.4 L601.0 941.2 L604.0 941.0 L607.0 940.8 L610.0 940.6 L613.0 940.4 L616.0 940.2 L619.0 940.0 L622.0 939.8 L625.0 939.6 L628.0 939.4 L631.0 939.2 L634.0 939.0 L637.0 938.7 L640.0 938.5 L643.0 938.3 L646.0 938.1 L649.0 937.8 L652.0 937.6 L655.0 937.3 L658.0 937.1 L661.0 936.9 L664.0 936.6 L667.0 936.4 L670.0 936.1 L673.0 935.9 L676.0 935.6 L679.0 935.3 L682.0 935.0 L685.0 934.7 L688.0 934.4 L691.0 934.1 L694.0 933.8 L697.0 933.5 L700.0 933.2 L703.0 932.8 L706.0 932.5 L709.0 932.2 L712.0 931.8 L715.0 931.5 L718.0 931.2 L721.0 930.8 L724.0 930.5 L727.0 930.2 L730.0 929.8 L733.0 929.5 L736.0 929.2 L739.0 928.9 L742.0 928.5 L745.0 928.2 L748.0 927.9 L751.0 927.6 L754.0 927.3 L757.0 927.0 L760.0 926.8 L763.0 926.5 L766.0 926.2 L769.0 926.0 L772.0 925.7 L775.0 925.4 L778.0 925.2 L781.0 924.9 L784.0 924.6 L787.0 924.3 L790.0 923.9 L793.0 923.5 L796.0 923.2 L799.0 922.7 L802.0 922.2 L805.0 921.7 L808.0 921.2 L811.0 920.6 L814.0 919.9 L817.0 919.3 L820.0 918.6 L823.0 917.9 L826.0 917.1 L829.0 916.4 L832.0 915.7 L835.0 914.9 L838.0 914.2 L841.0 913.5 L844.0 912.7 L847.0 912.0 L850.0 911.3 L853.0 910.5 L856.0 909.8 L859.0 909.0 L862.0 908.2 L865.0 907.4 L868.0 906.6 L871.0 905.8 L874.0 905.0 L877.0 904.2 L880.0 903.3 L883.0 902.5 L886.0 901.7 L889.0 900.8 L892.0 900.0 L895.0 899.2 L898.0 898.3 L901.0 897.5 L904.0 896.7 L907.0 895.8 L910.0 894.9 L913.0 894.0 L916.0 893.0 L919.0 891.9 L922.0 890.7 L925.0 889.3 L928.0 887.9 L931.0 886.3 L934.0 884.6 L937.0 882.9 L940.0 881.1 L943.0 879.3 L946.0 877.5 L949.0 875.6 L952.0 873.6 L955.0 871.6 L958.0 869.5 L961.0 867.5 L964.0 865.4 L967.0 863.4 L970.0 861.3 L973.0 859.3 L976.0 857.3 L979.0 855.2 L982.0 853.2 L985.0 851.2 L988.0 849.3 L991.0 847.4 L994.0 845.7 L997.0 843.9 L1000.0 841.9 L1003.0 839.6 L1006.0 837.0 L1009.0 834.1 L1012.0 831.1 L1015.0 828.1 L1018.0 825.0 L1021.0 821.8 L1024.0 818.6 L1027.0 815.2 L1030.0 811.9 L1033.0 808.5 L1036.0 805.2 L1039.0 801.9 L1042.0 798.7 L1045.0 795.5 L1048.0 792.2 L1051.0 788.8 L1054.0 785.3 L1057.0 781.6 L1060.0 777.8 L1063.0 773.8 L1066.0 769.9 L1069.0 765.9 L1072.0 762.0 L1075.0 758.1 L1078.0 754.3 L1081.0 750.5 L1084.0 746.6 L1087.0 742.5 L1090.0 738.1 L1093.0 733.1 L1096.0 727.9 L1099.0 723.3 L1102.0 720.0 L1105.0 717.9 L1108.0 716.4 L1111.0 715.1 L1114.0 713.6 L1117.0 711.8 L1120.0 709.6 L1123.0 706.9 L1126.0 704.2 L1129.0 701.4 L1132.0 698.5 L1135.0 695.6 L1138.0 692.9 L1141.0 690.6 L1144.0 689.0 L1147.0 687.9 L1150.0 687.0 L1153.0 686.3 L1156.0 685.7 L1159.0 685.2 L1162.0 684.8 L1165.0 684.4 L1168.0 684.2 L1171.0 684.3 L1174.0 685.1 L1177.0 686.9 L1180.0 689.3 L1183.0 691.7 L1186.0 694.2 L1189.0 696.9 L1192.0 699.6 L1195.0 702.2 L1198.0 704.7 L1201.0 707.1 L1204.0 709.6 L1207.0 712.8 L1210.0 717.2 L1213.0 722.4 L1216.0 727.7 L1219.0 732.7 L1222.0 737.6 L1225.0 742.9 L1228.0 748.5 L1231.0 754.5 L1234.0 760.6 L1237.0 766.7 L1240.0 772.8 L1243.0 778.5 L1246.0 783.9 L1249.0 789.0 L1252.0 793.8 L1255.0 798.3 L1258.0 802.6 L1261.0 806.8 L1264.0 811.2 L1267.0 816.0 L1270.0 821.3 L1273.0 827.0 L1276.0 832.6 L1279.0 837.9 L1282.0 842.7 L1285.0 847.2 L1288.0 851.7 L1291.0 856.3 L1294.0 860.9 L1297.0 865.4 L1300.0 869.4 L1303.0 873.0 L1306.0 876.4 L1309.0 879.7 L1312.0 882.8 L1315.0 885.8 L1318.0 888.7 L1321.0 891.6 L1324.0 894.5 L1327.0 897.1 L1330.0 899.7 L1333.0 902.0 L1336.0 904.1 L1339.0 906.1 L1342.0 908.0 L1345.0 909.7 L1348.0 911.4 L1351.0 913.0 L1354.0 914.6 L1357.0 916.1 L1360.0 917.6 L1363.0 919.0 L1366.0 920.4 L1369.0 921.7 L1372.0 923.1 L1375.0 924.4 L1378.0 925.7 L1381.0 927.0 L1384.0 928.2 L1387.0 929.5 L1390.0 930.7 L1393.0 931.9 L1396.0 933.1 L1399.0 934.3 L1402.0 935.4 L1405.0 936.5 L1408.0 937.5 L1411.0 938.5 L1414.0 939.5 L1417.0 940.4 L1420.0 941.3 L1423.0 942.3 L1426.0 943.1 L1429.0 944.0 L1432.0 944.8 L1435.0 945.7 L1438.0 946.5 L1441.0 947.2 L1444.0 948.0 L1447.0 948.8 L1450.0 949.5 L1453.0 950.2 L1456.0 950.9 L1459.0 951.6 L1462.0 952.3 L1465.0 952.9 L1468.0 953.5 L1471.0 954.1 L1474.0 954.7 L1477.0 955.3 L1480.0 955.8 L1483.0 956.4 L1486.0 956.9 L1489.0 957.4 L1492.0 957.9 L1495.0 958.4 L1498.0 958.9 L1501.0 959.4 L1504.0 959.8 L1507.0 960.3 L1510.0 960.7 L1513.0 961.1 L1516.0 961.6 L1519.0 962.0 L1522.0 962.3 L1525.0 962.7 L1528.0 963.1 L1531.0 963.4 L1534.0 963.7 L1537.0 964.1 L1540.0 964.4 L1543.0 964.7 L1546.0 965.0 L1549.0 965.3 L1552.0 965.6 L1555.0 965.9 L1558.0 966.2 L1561.0 966.5 L1564.0 966.7 L1567.0 966.9 L1570.0 967.1 L1573.0 967.3 L1576.0 967.5 L1579.0 967.7 L1582.0 967.8 L1585.0 967.9 L1588.0 968.0 L1591.0 968.2 L1594.0 968.3 L1597.0 968.4 L1600.0 968.5 L1603.0 968.6 L1606.0 968.7 L1609.0 968.9 L1612.0 969.0 L1615.0 969.1 L1618.0 969.2 L1621.0 969.3 L1624.0 969.4 L1627.0 969.5 L1630.0 969.6 L1633.0 969.7 L1636.0 969.8 L1639.0 969.9 L1642.0 970.0 L1645.0 970.1 L1648.0 970.2 L1651.0 970.3 L1654.0 970.4 L1657.0 970.5 L1660.0 970.6 L1663.0 970.7 L1666.0 970.8 L1669.0 970.8 L1672.0 970.9 L1675.0 971.0 L1678.0 971.1 L1681.0 971.2 L1684.0 971.2 L1687.0 971.3 L1690.0 971.4 L1693.0 971.4 L1696.0 971.5 L1699.0 971.6 L1702.0 971.6 L1705.0 971.7 L1708.0 971.8 L1711.0 971.8 L1714.0 971.9 L1717.0 971.9 L1720.0 972.0 L1723.0 972.0 L1726.0 972.1 L1729.0 972.1 L1732.0 972.2 L1735.0 972.2 L1738.0 972.3 L1741.0 972.3 L1744.0 972.3 L1747.0 972.4 L1750.0 972.4 L1753.0 972.4 L1756.0 972.5 L1759.0 972.5 L1762.0 972.5 L1765.0 972.5 L1768.0 972.5 L1771.0 972.6 L1774.0 972.6 L1777.0 972.6 L1780.0 972.6 L1783.0 972.6 L1786.0 972.6 L1789.0 972.6" stroke="#008080"/>
<path d="M373.0 1007.7 L376.0 1007.7 L379.0 1007.7 L382.0 1007.6 L385.0 1007.6 L388.0 1007.6 L391.0 1007.6 L394.0 1007.5 L397.0 1007.5 L400.0 1007.5 L403.0 1007.5 L406.0 1007.4 L409.0 1007.4 L412.0 1007.4 L415.0 1007.3 L418.0 1007.3 L421.0 1007.3 L424.0 1007.2 L427.0 1007.2 L430.0 1007.2 L433.0 1007.1 L436.0 1007.1 L439.0 1007.1 L442.0 1007.0 L445.0 1007.0 L448.0 1007.0 L451.0 1006.9 L454.0 1006.9 L457.0 1006.9 L460.0 1006.8 L463.0 1006.8 L466.0 1006.7 L469.0 1006.7 L472.0 1006.7 L475.0 1006.6 L478.0 1006.6 L481.0 1006.6 L484.0 1006.5 L487.0 1006.5 L490.0 1006.4 L493.0 1006.4 L496.0 1006.4 L499.0 1006.3 L502.0 1006.3 L505.0 1006.2 L508.0 1006.2 L511.0 1006.1 L514.0 1006.1 L517.0 1006.0 L520.0 1006.0 L523.0 1006.0 L526.0 1005.9 L529.0 1005.9 L532.0 1005.8 L535.0 1005.7 L538.0 1005.7 L541.0 1005.6 L544.0 1005.6 L547.0 1005.5 L550.0 1005.4 L553.0 1005.4 L556.0 1005.3 L559.0 1005.3 L562.0 1005.2 L565.0 1005.1 L568.0 1005.0 L571.0 1005.0 L574.0 1004.9 L577.0 1004.8 L580.0 1004.7 L583.0 1004.6 L586.0 1004.4 L589.0 1004.3 L592.0 1004.2 L595.0 1004.0 L598.0 1003.9 L601.0 1003.7 L604.0 1003.6 L607.0 1003.4 L610.0 1003.3 L613.0 1003.1 L616.0 1002.9 L619.0 1002.8 L622.0 1002.6 L625.0 1002.4 L628.0 1002.2 L631.0 1002.0 L634.0 1001.9 L637.0 1001.7 L640.0 1001.5 L643.0 1001.3 L646.0 1001.1 L649.0 1000.9 L652.0 1000.8 L655.0 1000.6 L658.0 1000.4 L661.0 1000.2 L664.0 1000.1 L667.0 999.9 L670.0 999.7 L673.0 999.6 L676.0 999.4 L679.0 999.3 L682.0 999.1 L685.0 998.9 L688.0 998.8 L691.0 998.6 L694.0 998.5 L697.0 998.3 L700.0 998.1 L703.0 998.0 L706.0 997.8 L709.0 997.7 L712.0 997.5 L715.0 997.3 L718.0 997.2 L721.0 997.0 L724.0 996.9 L727.0 996.7 L730.0 996.5 L733.0 996.4 L736.0 996.2 L739.0 996.0 L742.0 995.9 L745.0 995.7 L748.0 995.5 L751.0 995.3 L754.0 995.2 L757.0 995.0 L760.0 994.8 L763.0 994.7 L766.0 994.5 L769.0 994.3 L772.0 994.2 L775.0 994.0 L778.0 993.8 L781.0 993.7 L784.0 993.5 L787.0 993.3 L790.0 993.1 L793.0 992.9 L796.0 992.7 L799.0 992.5 L802.0 992.3 L805.0 992.1 L808.0 991.9 L811.0 991.7 L814.0 991.5 L817.0 991.2 L820.0 991.0 L823.0 990.8 L826.0 990.5 L829.0 990.3 L832.0 990.0 L835.0 989.7 L838.0 989.4 L841.0 989.1 L844.0 988.7 L847.0 988.2 L850.0 987.7 L853.0 987.1 L856.0 986.3 L859.0 985.6 L862.0 984.8 L865.0 984.0 L868.0 983.2 L871.0 982.4 L874.0 981.7 L877.0 981.0 L880.0 980.3 L883.0 979.7 L886.0 979.1 L889.0 978.4 L892.0 977.8 L895.0 977.2 L898.0 976.5 L901.0 975.9 L904.0 975.2 L907.0 974.5 L910.0 973.8 L913.0 973.1 L916.0 972.4 L919.0 971.7 L922.0 971.0 L925.0 970.2 L928.0 969.4 L931.0 968.6 L934.0 967.7 L937.0 966.8 L940.0 965.8 L943.0 964.7 L946.0 963.6 L949.0 962.4 L952.0 961.2 L955.0 959.9 L958.0 958.6 L961.0 957.3 L964.0 956.0 L967.0 954.7 L970.0 953.4 L973.0 952.0 L976.0 950.6 L979.0 949.2 L982.0 947.8 L985.0 946.4 L988.0 945.0 L991.0 943.6 L994.0 942.2 L997.0 940.8 L1000.0 939.2 L1003.0 937.3 L1006.0 935.1 L1009.0 932.7 L1012.0 930.1 L1015.0 927.5 L1018.0 924.9 L1021.0 922.4 L1024.0 919.8 L1027.0 917.2 L1030.0 914.5 L1033.0 911.6 L1036.0 908.6 L1039.0 905.3 L1042.0 901.8 L1045.0 898.2 L1048.0 894.4 L1051.0 890.7 L1054.0 887.1 L1057.0 883.6 L1060.0 880.2 L1063.0 876.8 L1066.0 873.3 L1069.0 869.4 L1072.0 865.0 L1075.0 860.0 L1078.0 854.5 L1081.0 849.3 L1084.0 844.4 L1087.0 839.9 L1090.0 835.4 L1093.0 831.1 L1096.0 826.7 L1099.0 822.2 L1102.0 817.7 L1105.0 813.1 L1108.0 808.6 L1111.0 804.1 L1114.0 799.6 L1117.0 795.1 L1120.0 790.7 L1123.0 786.1 L1126.0 781.7 L1129.0 777.6 L1132.0 773.9 L1135.0 770.7 L1138.0 767.9 L1141.0 765.4 L1144.0 763.1 L1147.0 760.9 L1150.0 758.6 L1153.0 756.2 L1156.0 753.5 L1159.0 750.8 L1162.0 748.7 L1165.0 747.5 L1168.0 746.7 L1171.0 746.3 L1174.0 746.1 L1177.0 746.1 L1180.0 746.4 L1183.0 746.9 L1186.0 747.8 L1189.0 749.6 L1192.0 752.3 L1195.0 755.5 L1198.0 758.8 L1201.0 762.0 L1204.0 765.4 L1207.0 769.0 L1210.0 772.9 L1213.0 777.1 L1216.0 781.5 L1219.0 786.2 L1222.0 791.0 L1225.0 795.9 L1228.0 800.9 L1231.0 806.1 L1234.0 811.3 L1237.0 816.3 L1240.0 821.1 L1243.0 825.9 L1246.0 830.7 L1249.0 835.8 L1252.0 841.4 L1255.0 847.3 L1258.0 852.6 L1261.0 857.2 L1264.0 861.4 L1267.0 865.6 L1270.0 870.4 L1273.0 876.0 L1276.0 882.0 L1279.0 887.8 L1282.0 893.2 L1285.0 898.3 L1288.0 903.1 L1291.0 907.9 L1294.0 912.7 L1297.0 917.2 L1300.0 921.5 L1303.0 925.6 L1306.0 929.6 L1309.0 933.5 L1312.0 937.3 L1315.0 940.9 L1318.0 944.5 L1321.0 948.0 L1324.0 951.5 L1327.0 954.8 L1330.0 957.9 L1333.0 960.9 L1336.0 963.6 L1339.0 966.2 L1342.0 968.6 L1345.0 970.9 L1348.0 973.2 L1351.0 975.4 L1354.0 977.7 L1357.0 979.9 L1360.0 982.1 L1363.0 984.2 L1366.0 986.2 L1369.0 988.1 L1372.0 989.8 L1375.0 991.3 L1378.0 992.8 L1381.0 994.3 L1384.0 995.7 L1387.0 997.0 L1390.0 998.3 L1393.0 999.5 L1396.0 1000.8 L1399.0 1002.0 L1402.0 1003.2 L1405.0 1004.3 L1408.0 1005.4 L1411.0 1006.5 L1414.0 1007.6 L1417.0 1008.7 L1420.0 1009.7 L1423.0 1010.6 L1426.0 1011.6 L1429.0 1012.5 L1432.0 1013.4 L1435.0 1014.3 L1438.0 1015.2 L1441.0 1016.1 L1444.0 1016.9 L1447.0 1017.7 L1450.0 1018.5 L1453.0 1019.2 L1456.0 1019.9 L1459.0 1020.6 L1462.0 1021.2 L1465.0 1021.8 L1468.0 1022.4 L1471.0 1023.0 L1474.0 1023.5 L1477.0 1024.1 L1480.0 1024.6 L1483.0 1025.1 L1486.0 1025.5 L1489.0 1026.0 L1492.0 1026.4 L1495.0 1026.8 L1498.0 1027.1 L1501.0 1027.5 L1504.0 1027.9 L1507.0 1028.2 L1510.0 1028.5 L1513.0 1028.8 L1516.0 1029.1 L1519.0 1029.4 L1522.0 1029.7 L1525.0 1029.9 L1528.0 1030.1 L1531.0 1030.4 L1534.0 1030.6 L1537.0 1030.8 L1540.0 1031.0 L1543.0 1031.2 L1546.0 1031.4 L1549.0 1031.6 L1552.0 1031.8 L1555.0 1031.9 L1558.0 1032.1 L1561.0 1032.3 L1564.0 1032.4 L1567.0 1032.5 L1570.0 1032.7 L1573.0 1032.8 L1576.0 1032.9 L1579.0 1033.0 L1582.0 1033.1 L1585.0 1033.1 L1588.0 1033.2 L1591.0 1033.3 L1594.0 1033.4 L1597.0 1033.4 L1600.0 1033.5 L1603.0 1033.6 L1606.0 1033.6 L1609.0 1033.7 L1612.0 1033.8 L1615.0 1033.8 L1618.0 1033.9 L1621.0 1034.0 L1624.0 1034.0 L1627.0 1034.1 L1630.0 1034.2 L1633.0 1034.2 L1636.0 1034.3 L1639.0 1034.4 L1642.0 1034.4 L1645.0 1034.5 L1648.0 1034.5 L1651.0 1034.6 L1654.0 1034.7 L1657.0 1034.7 L1660.0 1034.8 L1663.0 1034.8 L1666.0 1034.9 L1669.0 1034.9 L1672.0 1035.0 L1675.0 1035.0 L1678.0 1035.1 L1681.0 1035.1 L1684.0 1035.2 L1687.0 1035.2 L1690.0 1035.3 L1693.0 1035.3 L1696.0 1035.3 L1699.0 1035.4 L1702.0 1035.4 L1705.0 1035.5 L1708.0 1035.5 L1711.0 1035.5 L1714.0 1035.6 L1717.0 1035.6 L1720.0 1035.6 L1723.0 1035.7 L1726.0 1035.7 L1729.0 1035.7 L1732.0 1035.7 L1735.0 1035.8 L1738.0 1035.8 L1741.0 1035.8 L1744.0 1035.8 L1747.0 1035.9 L1750.0 1035.9 L1753.0 1035.9 L1756.0 1035.9 L1759.0 1035.9 L1762.0 1035.9 L1765.0 1036.0 L1768.0 1036.0 L1771.0 1036.0 L1774.0 1036.0 L1777.0 1036.0 L1780.0 1036.0 L1783.0 1036.0 L1786.0 1036.0 L1789.0 1036.0" stroke="#ff0000"/>
<path d="M373.0 1075.4 L376.0 1075.4 L379.0 1075.4 L382.0 1075.4 L385.0 1075.4 L388.0 1075.3 L391.0 1075.3 L394.0 1075.3 L397.0 1075.2 L400.0 1075.2 L403.0 1075.2 L406.0 1075.1 L409.0 1075.1 L412.0 1075.0 L415.0 1075.0 L418.0 1074.9 L421.0 1074.9 L424.0 1074.8 L427.0 1074.7 L430.0 1074.7 L433.0 1074.6 L436.0 1074.5 L439.0 1074.5 L442.0 1074.4 L445.0 1074.3 L448.0 1074.3 L451.0 1074.2 L454.0 1074.1 L457.0 1074.0 L460.0 1074.0 L463.0 1073.9 L466.0 1073.8 L469.0 1073.7 L472.0 1073.6 L475.0 1073.5 L478.0 1073.4 L481.0 1073.3 L484.0 1073.2 L487.0 1073.1 L490.0 1073.0 L493.0 1072.9 L496.0 1072.7 L499.0 1072.6 L502.0 1072.4 L505.0 1072.3 L508.0 1072.1 L511.0 1072.0 L514.0 1071.8 L517.0 1071.7 L520.0 1071.5 L523.0 1071.3 L526.0 1071.1 L529.0 1071.0 L532.0 1070.8 L535.0 1070.6 L538.0 1070.4 L541.0 1070.2 L544.0 1070.0 L547.0 1069.9 L550.0 1069.7 L553.0 1069.5 L556.0 1069.3 L559.0 1069.1 L562.0 1068.9 L565.0 1068.8 L568.0 1068.6 L571.0 1068.4 L574.0 1068.2 L577.0 1068.0 L580.0 1067.8 L583.0 1067.6 L586.0 1067.4 L589.0 1067.2 L592.0 1067.0 L595.0 1066.8 L598.0 1066.5 L601.0 1066.3 L604.0 1066.1 L607.0 1065.9 L610.0 1065.6 L613.0 1065.4 L616.0 1065.2 L619.0 1065.0 L622.0 1064.7 L625.0 1064.5 L628.0 1064.3 L631.0 1064.1 L634.0 1063.8 L637.0 1063.6 L640.0 1063.4 L643.0 1063.2 L646.0 1063.0 L649.0 1062.8 L652.0 1062.6 L655.0 1062.4 L658.0 1062.2 L661.0 1062.0 L664.0 1061.9 L667.0 1061.7 L670.0 1061.6 L673.0 1061.4 L676.0 1061.3 L679.0 1061.1 L682.0 1061.0 L685.0 1060.9 L688.0 1060.7 L691.0 1060.6 L694.0 1060.5 L697.0 1060.4 L700.0 1060.3 L703.0 1060.1 L706.0 1060.0 L709.0 1059.9 L712.0 1059.8 L715.0 1059.7 L718.0 1059.6 L721.0 1059.5 L724.0 1059.4 L727.0 1059.2 L730.0 1059.1 L733.0 1059.0 L736.0 1058.9 L739.0 1058.8 L742.0 1058.6 L745.0 1058.5 L748.0 1058.4 L751.0 1058.3 L754.0 1058.1 L757.0 1058.0 L760.0 1057.9 L763.0 1057.7 L766.0 1057.6 L769.0 1057.5 L772.0 1057.3 L775.0 1057.2 L778.0 1057.0 L781.0 1056.8 L784.0 1056.6 L787.0 1056.4 L790.0 1056.1 L793.0 1055.7 L796.0 1055.3 L799.0 1054.8 L802.0 1054.4 L805.0 1053.9 L808.0 1053.4 L811.0 1053.0 L814.0 1052.6 L817.0 1052.3 L820.0 1052.1 L823.0 1052.0 L826.0 1051.8 L829.0 1051.8 L832.0 1051.7 L835.0 1051.6 L838.0 1051.6 L841.0 1051.5 L844.0 1051.5 L847.0 1051.4 L850.0 1051.3 L853.0 1051.2 L856.0 1051.1 L859.0 1051.0 L862.0 1050.8 L865.0 1050.5 L868.0 1050.1 L871.0 1049.7 L874.0 1049.2 L877.0 1048.7 L880.0 1048.2 L883.0 1047.6 L886.0 1047.1 L889.0 1046.5 L892.0 1046.0 L895.0 1045.4 L898.0 1044.8 L901.0 1044.2 L904.0 1043.5 L907.0 1042.9 L910.0 1042.2 L913.0 1041.4 L916.0 1040.7 L919.0 1040.0 L922.0 1039.3 L925.0 1038.6 L928.0 1037.9 L931.0 1037.2 L934.0 1036.5 L937.0 1035.8 L940.0 1035.1 L943.0 1034.4 L946.0 1033.7 L949.0 1033.0 L952.0 1032.3 L955.0 1031.6 L958.0 1031.0 L961.0 1030.4 L964.0 1029.8 L967.0 1029.2 L970.0 1028.6 L973.0 1027.9 L976.0 1027.2 L979.0 1026.3 L982.0 1025.1 L985.0 1023.6 L988.0 1021.5 L991.0 1019.1 L994.0 1016.5 L997.0 1013.8 L1000.0 1011.2 L1003.0 1008.9 L1006.0 1007.0 L1009.0 1005.5 L1012.0 1004.1 L1015.0 1002.6 L1018.0 1001.0 L1021.0 999.0 L1024.0 996.8 L1027.0 994.5 L1030.0 991.9 L1033.0 989.2 L1036.0 986.4 L1039.0 983.6 L1042.0 980.8 L1045.0 978.0 L1048.0 975.2 L1051.0 972.3 L1054.0 969.3 L1057.0 966.2 L1060.0 963.1 L1063.0 959.9 L1066.0 956.6 L1069.0 953.1 L1072.0 949.3 L1075.0 945.2 L1078.0 940.9 L1081.0 936.2 L1084.0 931.5 L1087.0 926.9 L1090.0 922.3 L1093.0 917.8 L1096.0 913.3 L1099.0 908.9 L1102.0 904.4 L1105.0 899.8 L1108.0 895.2 L1111.0 890.6 L1114.0 885.8 L1117.0 881.0 L1120.0 876.2 L1123.0 871.3 L1126.0 866.3 L1129.0 861.2 L1132.0 856.2 L1135.0 851.5 L1138.0 847.2 L1141.0 843.2 L1144.0 839.5 L1147.0 836.0 L1150.0 832.6 L1153.0 829.2 L1156.0 825.6 L1159.0 822.0 L1162.0 818.7 L1165.0 816.2 L1168.0 814.6 L1171.0 813.7 L1174.0 813.1 L1177.0 812.8 L1180.0 812.6 L1183.0 812.6 L1186.0 812.6 L1189.0 812.6 L1192.0 812.6 L1195.0 812.6 L1198.0 812.6 L1201.0 812.6 L1204.0 812.6 L1207.0 813.0 L1210.0 814.3 L1213.0 817.1 L1216.0 820.8 L1219.0 824.5 L1222.0 828.4 L1225.0 832.4 L1228.0 836.6 L1231.0 841.0 L1234.0 845.5 L1237.0 850.0 L1240.0 854.5 L1243.0 858.9 L1246.0 863.3 L1249.0 868.1 L1252.0 873.6 L1255.0 879.8 L1258.0 886.4 L1261.0 893.1 L1264.0 899.8 L1267.0 906.4 L1270.0 912.7 L1273.0 918.5 L1276.0 923.8 L1279.0 929.0 L1282.0 934.8 L1285.0 941.4 L1288.0 948.5 L1291.0 955.3 L1294.0 961.9 L1297.0 968.5 L1300.0 975.5 L1303.0 982.8 L1306.0 989.9 L1309.0 996.5 L1312.0 1002.6 L1315.0 1008.3 L1318.0 1013.5 L1321.0 1018.3 L1324.0 1022.9 L1327.0 1027.4 L1330.0 1031.7 L1333.0 1035.6 L1336.0 1039.2 L1339.0 1042.5 L1342.0 1045.7 L1345.0 1048.6 L1348.0 1051.3 L1351.0 1053.9 L1354.0 1056.4 L1357.0 1058.7 L1360.0 1060.9 L1363.0 1063.0 L1366.0 1064.9 L1369.0 1066.7 L1372.0 1068.4 L1375.0 1070.0 L1378.0 1071.6 L1381.0 1073.1 L1384.0 1074.5 L1387.0 1075.8 L1390.0 1077.1 L1393.0 1078.3 L1396.0 1079.3 L1399.0 1080.3 L1402.0 1081.3 L1405.0 1082.1 L1408.0 1083.0 L1411.0 1083.8 L1414.0 1084.5 L1417.0 1085.2 L1420.0 1085.9 L1423.0 1086.6 L1426.0 1087.3 L1429.0 1088.0 L1432.0 1088.7 L1435.0 1089.3 L1438.0 1090.0 L1441.0 1090.5 L1444.0 1091.1 L1447.0 1091.5 L1450.0 1091.9 L1453.0 1092.3 L1456.0 1092.6 L1459.0 1092.9 L1462.0 1093.2 L1465.0 1093.4 L1468.0 1093.7 L1471.0 1093.9 L1474.0 1094.1 L1477.0 1094.4 L1480.0 1094.6 L1483.0 1094.8 L1486.0 1095.0 L1489.0 1095.2 L1492.0 1095.3 L1495.0 1095.5 L1498.0 1095.7 L1501.0 1095.9 L1504.0 1096.1 L1507.0 1096.3 L1510.0 1096.5 L1513.0 1096.7 L1516.0 1096.9 L1519.0 1097.1 L1522.0 1097.3 L1525.0 1097.5 L1528.0 1097.7 L1531.0 1097.9 L1534.0 1098.1 L1537.0 1098.3 L1540.0 1098.5 L1543.0 1098.6 L1546.0 1098.8 L1549.0 1098.9 L1552.0 1099.1 L1555.0 1099.2 L1558.0 1099.4 L1561.0 1099.5 L1564.0 1099.6 L1567.0 1099.7 L1570.0 1099.8 L1573.0 1099.9 L1576.0 1099.9 L1579.0 1100.0 L1582.0 1100.0 L1585.0 1100.1 L1588.0 1100.1 L1591.0 1100.1 L1594.0 1100.2 L1597.0 1100.2 L1600.0 1100.2 L1603.0 1100.2 L1606.0 1100.2 L1609.0 1100.3 L1612.0 1100.3 L1615.0 1100.3 L1618.0 1100.3 L1621.0 1100.3 L1624.0 1100.4 L1627.0 1100.4 L1630.0 1100.4 L1633.0 1100.4 L1636.0 1100.5 L1639.0 1100.5 L1642.0 1100.5 L1645.0 1100.5 L1648.0 1100.6 L1651.0 1100.6 L1654.0 1100.7 L1657.0 1100.7 L1660.0 1100.7 L1663.0 1100.8 L1666.0 1100.8 L1669.0 1100.8 L1672.0 1100.9 L1675.0 1100.9 L1678.0 1101.0 L1681.0 1101.0 L1684.0 1101.1 L1687.0 1101.1 L1690.0 1101.2 L1693.0 1101.2 L1696.0 1101.3 L1699.0 1101.3 L1702.0 1101.4 L1705.0 1101.4 L1708.0 1101.5 L1711.0 1101.5 L1714.0 1101.6 L1717.0 1101.6 L1720.0 1101.7 L1723.0 1101.8 L1726.0 1101.8 L1729.0 1101.9 L1732.0 1101.9 L1735.0 1102.0 L1738.0 1102.1 L1741.0 1102.1 L1744.0 1102.2 L1747.0 1102.3 L1750.0 1102.3 L1753.0 1102.4 L1756.0 1102.5 L1759.0 1102.5 L1762.0 1102.6 L1765.0 1102.7 L1768.0 1102.8 L1771.0 1102.8 L1774.0 1102.9 L1777.0 1103.0 L1780.0 1103.1 L1783.0 1103.1 L1786.0 1103.2 L1789.0 1103.3" stroke="#000000"/>
</g>
<text transform="translate(1808.50,405.00)" font-size="62" fill="#808080">1200<tspan font-size="36" dx="2.5" dy="-18.7">0</tspan><tspan dx="0.5" dy="18.7">C</tspan></text>
<text transform="translate(1808.50,473.00)" font-size="62" fill="#8c008c">1000<tspan font-size="36" dx="2.5" dy="-18.7">0</tspan><tspan dx="0.5" dy="18.7">C</tspan></text>
<text transform="translate(1812.30,540.50)" font-size="62" fill="#ff8000">800<tspan font-size="36" dx="2.5" dy="-18.7">0</tspan><tspan dx="0.5" dy="18.7">C</tspan></text>
<text transform="translate(1812.30,606.00)" font-size="62" fill="#0000a0">600<tspan font-size="36" dx="2.5" dy="-18.7">0</tspan><tspan dx="0.5" dy="18.7">C</tspan></text>
<text transform="translate(1812.30,672.00)" font-size="62" fill="#008000">500<tspan font-size="36" dx="2.5" dy="-18.7">0</tspan><tspan dx="0.5" dy="18.7">C</tspan></text>
<text transform="translate(1812.30,734.00)" font-size="62" fill="#ff0080">450<tspan font-size="36" dx="2.5" dy="-18.7">0</tspan><tspan dx="0.5" dy="18.7">C</tspan></text>
<text transform="translate(1812.30,799.00)" font-size="62" fill="#880000">400<tspan font-size="36" dx="2.5" dy="-18.7">0</tspan><tspan dx="0.5" dy="18.7">C</tspan></text>
<text transform="translate(1812.30,862.00)" font-size="62" fill="#808000">340<tspan font-size="36" dx="2.5" dy="-18.7">0</tspan><tspan dx="0.5" dy="18.7">C</tspan></text>
<text transform="translate(1812.30,927.00)" font-size="62" fill="#ff00ff">300<tspan font-size="36" dx="2.5" dy="-18.7">0</tspan><tspan dx="0.5" dy="18.7">C</tspan></text>
<text transform="translate(1812.30,994.50)" font-size="62" fill="#008080">250<tspan font-size="36" dx="2.5" dy="-18.7">0</tspan><tspan dx="0.5" dy="18.7">C</tspan></text>
<text transform="translate(1500.70,1053.00)" font-size="62" fill="#ff0000">(C<tspan font-size="37" dy="21.5" dx="-2">5</tspan><tspan dy="-21.5">H</tspan><tspan font-size="37" dy="21.5" dx="-2">5</tspan><tspan dy="-21.5">)</tspan><tspan font-size="37" dy="21.5" dx="-2">2</tspan><tspan dy="-21.5">Ni@</tspan><tspan dx="4">SWCNT</tspan></text>
<text transform="translate(1813.30,1120.00)" font-size="62.4" fill="#000">SWCNT</text>
<rect x="365" y="70" width="4" height="1063" fill="#dcdcdc"/>
<rect x="1784" y="75" width="4" height="1050" fill="#e0e0e0"/>
<rect x="369" y="70" width="4" height="1081" fill="#2a2a2a"/>
<rect x="1788" y="70" width="4" height="1059" fill="#2a2a2a"/>
<rect x="369" y="66" width="1423" height="4.4" fill="#808080"/>
<rect x="369" y="70.4" width="1423" height="4.4" fill="#8e8e8e"/>
<rect x="373" y="1129" width="1419" height="4" fill="#d0d0d0"/>
<rect x="369" y="1125" width="1423" height="4" fill="#333"/>
<rect x="369.0" y="1129" width="4" height="22" fill="#2a2a2a"/>
<rect x="546.4" y="1129" width="4" height="11" fill="#555"/>
<rect x="723.8" y="1129" width="4" height="22" fill="#2a2a2a"/>
<rect x="901.1" y="1129" width="4" height="11" fill="#555"/>
<rect x="1078.5" y="1129" width="4" height="22" fill="#2a2a2a"/>
<rect x="1255.9" y="1129" width="4" height="11" fill="#555"/>
<rect x="1433.2" y="1129" width="4" height="22" fill="#2a2a2a"/>
<rect x="1610.6" y="1129" width="4" height="11" fill="#555"/>
<rect x="1788.0" y="1129" width="4" height="22" fill="#2a2a2a"/>
<text transform="translate(369.00,1203.00)" font-size="53" text-anchor="middle">287</text>
<text transform="translate(723.75,1203.00)" font-size="53" text-anchor="middle">286</text>
<text transform="translate(1078.50,1203.00)" font-size="53" text-anchor="middle">285</text>
<text transform="translate(1433.25,1203.00)" font-size="53" text-anchor="middle">284</text>
<text transform="translate(1788.00,1203.00)" font-size="53" text-anchor="middle">283</text>
<text transform="translate(676.10,1319.50) scale(1,1.04)" font-size="89">Binding energy, eV</text>
<text transform="translate(321.50,874.50) rotate(-90) scale(1,1.04)" font-size="89">Intensity, a.u.</text>
<text transform="translate(25.20,1456.30) scale(0.85,1)" font-size="120">(</text>
<text transform="translate(62.23,1456.30) scale(0.93,1)" font-size="120">b</text>
<text transform="translate(139.80,1456.30) scale(0.85,1)" font-size="120">)</text>
<line x1="364.2" y1="1688.2" x2="1786" y2="1688.2" stroke="#bcbce6" stroke-width="3.6" stroke-dasharray="20 15.6"/>
<line x1="364.2" y1="1691.8" x2="1786" y2="1691.8" stroke="#4444c0" stroke-width="3.6" stroke-dasharray="20 15.6"/>
<line x1="368.4" y1="1833" x2="1786" y2="1833" stroke="#111" stroke-width="4.2" stroke-dasharray="18 17.6"/>
<path d="M461.0 1624.4L480.7 1616.1 M527.6 1593.8L535.7 1589.5 M580.0 1592.3L618.5 1619.5 M665.8 1634.5L681.4 1634.5 M733.4 1634.5L749.0 1634.5 M791.0 1654.9L894.0 1785.6 M922.2 1829.0L1168.3 2297.5 M1205.8 2325.9L1425.3 2372.3 M1476.1 2383.0L1695.6 2429.4" fill="none" stroke="#2525b8" stroke-width="3"/>
<circle cx="437.1" cy="1634.5" r="21.5" fill="#0000a8"/>
<circle cx="504.6" cy="1605.9" r="21.5" fill="#0000a8"/>
<circle cx="558.7" cy="1577.3" r="21.5" fill="#0000a8"/>
<circle cx="639.8" cy="1634.5" r="21.5" fill="#0000a8"/>
<circle cx="707.4" cy="1634.5" r="21.5" fill="#0000a8"/>
<circle cx="775.0" cy="1634.5" r="21.5" fill="#0000a8"/>
<circle cx="910.1" cy="1806.0" r="21.5" fill="#0000a8"/>
<circle cx="1180.4" cy="2320.5" r="21.5" fill="#0000a8"/>
<circle cx="1450.7" cy="2377.6" r="21.5" fill="#0000a8"/>
<circle cx="1721.0" cy="2434.8" r="21.5" fill="#0000a8"/>
<rect x="365" y="1437" width="4" height="1052" fill="#e4e4e4"/>
<rect x="1784" y="1437" width="4" height="1051" fill="#e6e6e6"/>
<rect x="369" y="1429.5" width="1423" height="3.5" fill="#e8e8e8"/>
<rect x="369" y="1433" width="4" height="1082" fill="#1e1e1e"/>
<rect x="1788" y="1433" width="4" height="1060" fill="#1e1e1e"/>
<rect x="369" y="1433" width="1423" height="4.5" fill="#1e1e1e"/>
<rect x="369" y="2488.5" width="1423" height="4.5" fill="#3a3a3a"/>
<rect x="369" y="2493" width="1423" height="4" fill="#6a6a6a"/>
<rect x="346" y="1488.5" width="23" height="4" fill="#666"/>
<rect x="357" y="1631.3" width="12" height="4" fill="#555"/>
<rect x="346" y="1774.2" width="23" height="4" fill="#666"/>
<rect x="357" y="1917.0" width="12" height="4" fill="#555"/>
<rect x="346" y="2059.9" width="23" height="4" fill="#666"/>
<rect x="357" y="2202.8" width="12" height="4" fill="#555"/>
<rect x="346" y="2345.6" width="23" height="4" fill="#666"/>
<rect x="357" y="2488.4" width="12" height="4" fill="#555"/>
<text transform="translate(335.20,1505.50)" font-size="53" text-anchor="end">284.8</text>
<text transform="translate(335.20,1791.20)" font-size="53" text-anchor="end">284.7</text>
<text transform="translate(335.20,2076.90)" font-size="53" text-anchor="end">284.6</text>
<text transform="translate(335.20,2362.60)" font-size="53" text-anchor="end">284.5</text>
<rect x="1792" y="1546.8" width="18" height="4" fill="#555"/>
<rect x="1792" y="1689.5" width="9" height="4" fill="#333"/>
<rect x="1792" y="1832.1" width="18" height="4" fill="#555"/>
<rect x="1792" y="1974.8" width="9" height="4" fill="#333"/>
<rect x="1792" y="2117.4" width="18" height="4" fill="#555"/>
<rect x="1792" y="2260.1" width="9" height="4" fill="#333"/>
<rect x="1792" y="2402.7" width="18" height="4" fill="#555"/>
<text transform="translate(1821.50,1563.80)" font-size="53">0.1</text>
<text transform="translate(1821.50,1849.10)" font-size="53">0.0</text>
<text transform="translate(1821.50,2134.40)" font-size="53">-0.1</text>
<text transform="translate(1821.50,2419.70)" font-size="53">-0.2</text>
<rect x="367.5" y="2493" width="4" height="21.5" fill="#1e1e1e"/>
<text transform="translate(369.00,2566.00)" font-size="53" text-anchor="middle">200</text>
<rect x="502.6" y="2493" width="4" height="12" fill="#777"/>
<rect x="637.8" y="2493" width="4" height="21.5" fill="#1e1e1e"/>
<text transform="translate(639.30,2566.00)" font-size="53" text-anchor="middle">400</text>
<rect x="773.0" y="2493" width="4" height="12" fill="#777"/>
<rect x="908.1" y="2493" width="4" height="21.5" fill="#1e1e1e"/>
<text transform="translate(909.60,2566.00)" font-size="53" text-anchor="middle">600</text>
<rect x="1043.2" y="2493" width="4" height="12" fill="#777"/>
<rect x="1178.4" y="2493" width="4" height="21.5" fill="#1e1e1e"/>
<text transform="translate(1179.90,2566.00)" font-size="53" text-anchor="middle">800</text>
<rect x="1313.5" y="2493" width="4" height="12" fill="#777"/>
<rect x="1448.7" y="2493" width="4" height="21.5" fill="#1e1e1e"/>
<text transform="translate(1450.20,2566.00)" font-size="53" text-anchor="middle">1000</text>
<rect x="1583.8" y="2493" width="4" height="12" fill="#777"/>
<rect x="1719.0" y="2493" width="4" height="21.5" fill="#1e1e1e"/>
<text transform="translate(1720.50,2566.00)" font-size="53" text-anchor="middle">1200</text>
<text transform="translate(520.80,2684.30) scale(1,1.04)" font-size="89">Annealing temperature, <tspan font-size="51" dy="-28.3">0</tspan><tspan dy="28.3">C</tspan></text>
<text transform="translate(152.30,2374.70) rotate(-90) scale(1,1.04)" font-size="89">Binding energy, eV</text>
<text transform="translate(2016.00,2414.70) rotate(-90) scale(1,1.04)" font-size="89">Shift of C 1s peak, eV</text>
<text transform="translate(1261.00,1650.00)" font-size="57" fill="#0000a8">(C<tspan font-size="34" dy="22.5" dx="0">5</tspan><tspan dy="-22.5">H</tspan><tspan font-size="34" dy="22.5" dx="0">5</tspan><tspan dy="-22.5">)</tspan><tspan font-size="34" dy="22.5" dx="0">2</tspan><tspan dy="-22.5">Ni@SWCNT</tspan></text>
<text transform="translate(1552.60,1908.00)" font-size="56.3">SWCNT</text>
</g></svg></body></html>
